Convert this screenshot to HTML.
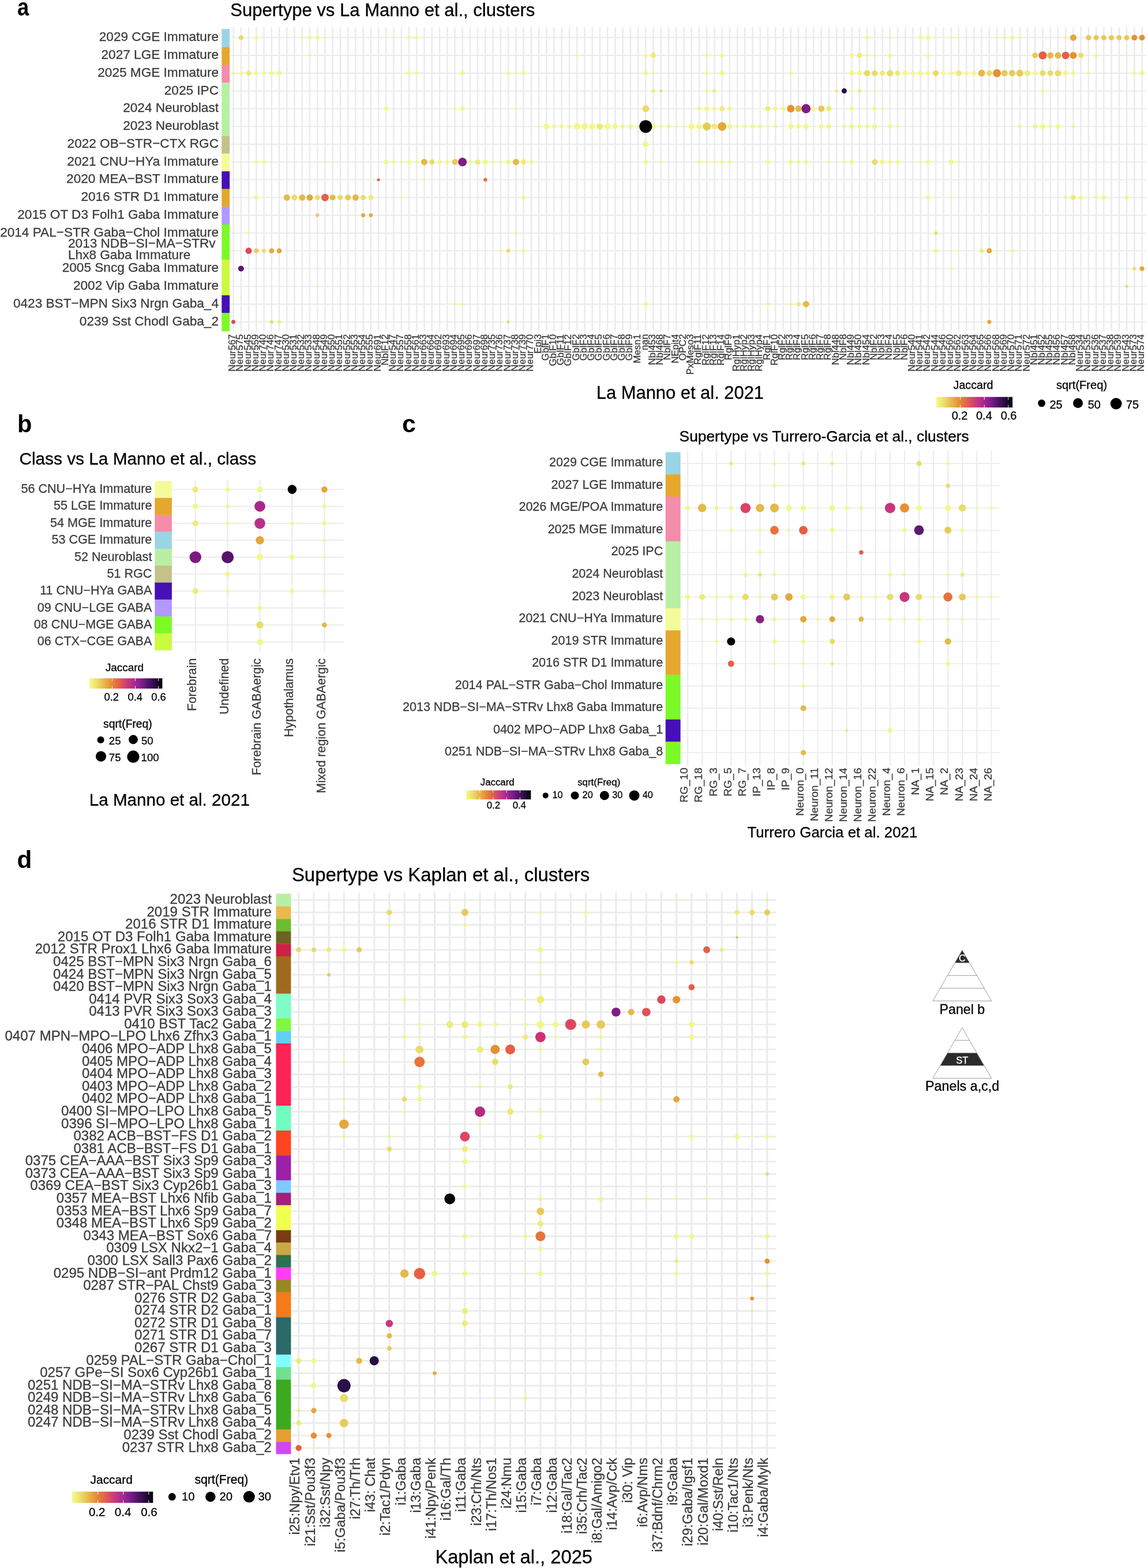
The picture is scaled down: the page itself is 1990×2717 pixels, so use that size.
<!DOCTYPE html>
<html lang="en">
<head>
<meta charset="utf-8">
<title>Supertype correspondence figure</title>
<style>html,body{margin:0;padding:0;background:#fff}body{width:1990px;height:2717px;overflow:hidden}svg{display:block}text{white-space:pre;stroke-width:0.3px;stroke-linejoin:round}</style>
</head>
<body>
<svg width="1990" height="2717" viewBox="0 0 1990 2717" font-family='"Liberation Sans", sans-serif'>
<rect width="1990" height="2717" fill="#fff"/>
<g stroke="#EBEBEB" fill="none"><path stroke-width="1.9" d="M399.5 65.25H1987.4M399.5 96.03H1987.4M399.5 126.81H1987.4M399.5 157.59H1987.4M399.5 188.37H1987.4M399.5 219.15H1987.4M399.5 249.93H1987.4M399.5 280.71H1987.4M399.5 311.49H1987.4M399.5 342.27H1987.4M399.5 373.05H1987.4M399.5 403.83H1987.4M399.5 434.61H1987.4M399.5 465.39H1987.4M399.5 496.17H1987.4M399.5 526.95H1987.4M399.5 557.73H1987.4"/><path stroke-width="2.5" d="M404.60 47.3V573.6M417.84 47.3V573.6M431.07 47.3V573.6M444.31 47.3V573.6M457.54 47.3V573.6M470.78 47.3V573.6M484.01 47.3V573.6M497.25 47.3V573.6M510.48 47.3V573.6M523.72 47.3V573.6M536.95 47.3V573.6M550.18 47.3V573.6M563.42 47.3V573.6M576.65 47.3V573.6M589.89 47.3V573.6M603.12 47.3V573.6M616.36 47.3V573.6M629.60 47.3V573.6M642.83 47.3V573.6M656.07 47.3V573.6M669.30 47.3V573.6M682.54 47.3V573.6M695.77 47.3V573.6M709.00 47.3V573.6M722.24 47.3V573.6M735.48 47.3V573.6M748.71 47.3V573.6M761.94 47.3V573.6M775.18 47.3V573.6M788.41 47.3V573.6M801.65 47.3V573.6M814.88 47.3V573.6M828.12 47.3V573.6M841.36 47.3V573.6M854.59 47.3V573.6M867.83 47.3V573.6M881.06 47.3V573.6M894.30 47.3V573.6M907.53 47.3V573.6M920.76 47.3V573.6M934.00 47.3V573.6M947.24 47.3V573.6M960.47 47.3V573.6M973.71 47.3V573.6M986.94 47.3V573.6M1000.17 47.3V573.6M1013.41 47.3V573.6M1026.64 47.3V573.6M1039.88 47.3V573.6M1053.12 47.3V573.6M1066.35 47.3V573.6M1079.59 47.3V573.6M1092.82 47.3V573.6M1106.05 47.3V573.6M1119.29 47.3V573.6M1132.53 47.3V573.6M1145.76 47.3V573.6M1158.99 47.3V573.6M1172.23 47.3V573.6M1185.47 47.3V573.6M1198.70 47.3V573.6M1211.93 47.3V573.6M1225.17 47.3V573.6M1238.40 47.3V573.6M1251.64 47.3V573.6M1264.88 47.3V573.6M1278.11 47.3V573.6M1291.35 47.3V573.6M1304.58 47.3V573.6M1317.82 47.3V573.6M1331.05 47.3V573.6M1344.28 47.3V573.6M1357.52 47.3V573.6M1370.76 47.3V573.6M1383.99 47.3V573.6M1397.22 47.3V573.6M1410.46 47.3V573.6M1423.69 47.3V573.6M1436.93 47.3V573.6M1450.16 47.3V573.6M1463.40 47.3V573.6M1476.63 47.3V573.6M1489.87 47.3V573.6M1503.11 47.3V573.6M1516.34 47.3V573.6M1529.57 47.3V573.6M1542.81 47.3V573.6M1556.05 47.3V573.6M1569.28 47.3V573.6M1582.51 47.3V573.6M1595.75 47.3V573.6M1608.99 47.3V573.6M1622.22 47.3V573.6M1635.45 47.3V573.6M1648.69 47.3V573.6M1661.93 47.3V573.6M1675.16 47.3V573.6M1688.39 47.3V573.6M1701.63 47.3V573.6M1714.86 47.3V573.6M1728.10 47.3V573.6M1741.34 47.3V573.6M1754.57 47.3V573.6M1767.80 47.3V573.6M1781.04 47.3V573.6M1794.28 47.3V573.6M1807.51 47.3V573.6M1820.74 47.3V573.6M1833.98 47.3V573.6M1847.22 47.3V573.6M1860.45 47.3V573.6M1873.68 47.3V573.6M1886.92 47.3V573.6M1900.15 47.3V573.6M1913.39 47.3V573.6M1926.62 47.3V573.6M1939.86 47.3V573.6M1953.09 47.3V573.6M1966.33 47.3V573.6M1979.57 47.3V573.6"/></g>
<rect x="384.3" y="50.20" width="13.80" height="32.07" fill="#99D5E5"/>
<rect x="384.3" y="81.97" width="13.80" height="30.99" fill="#E5A82E"/>
<rect x="384.3" y="112.66" width="13.80" height="30.99" fill="#F48CAB"/>
<rect x="384.3" y="143.35" width="13.80" height="92.37" fill="#B8EFA4"/>
<rect x="384.3" y="235.42" width="13.80" height="30.99" fill="#C5C18A"/>
<rect x="384.3" y="266.11" width="13.80" height="30.99" fill="#F5FB9A"/>
<rect x="384.3" y="296.80" width="13.80" height="30.99" fill="#4510B5"/>
<rect x="384.3" y="327.49" width="13.80" height="30.99" fill="#E5A82E"/>
<rect x="384.3" y="358.18" width="13.80" height="30.99" fill="#B199FF"/>
<rect x="384.3" y="388.87" width="13.80" height="61.68" fill="#7CFA28"/>
<rect x="384.3" y="450.25" width="13.80" height="61.68" fill="#CCFA3E"/>
<rect x="384.3" y="511.63" width="13.80" height="30.99" fill="#4510B5"/>
<rect x="384.3" y="542.32" width="13.80" height="31.78" fill="#7CFA28"/>
<g>
<circle cx="417.84" cy="65.25" r="4.10" fill="#EADC64"/>
<circle cx="444.31" cy="65.25" r="3.00" fill="#F1F886"/>
<circle cx="523.72" cy="65.25" r="2.50" fill="#F1F886"/>
<circle cx="536.95" cy="65.25" r="3.00" fill="#F1F886"/>
<circle cx="550.18" cy="65.25" r="3.50" fill="#F1F886"/>
<circle cx="563.42" cy="65.25" r="2.50" fill="#F1F886"/>
<circle cx="682.54" cy="65.25" r="2.00" fill="#F1F886"/>
<circle cx="709.00" cy="65.25" r="3.00" fill="#F1F886"/>
<circle cx="722.24" cy="65.25" r="3.00" fill="#F1F886"/>
<circle cx="1503.11" cy="65.25" r="3.00" fill="#F1F886"/>
<circle cx="1542.81" cy="65.25" r="2.50" fill="#F1F886"/>
<circle cx="1595.75" cy="65.25" r="3.50" fill="#F1F886"/>
<circle cx="1608.99" cy="65.25" r="3.50" fill="#F1F886"/>
<circle cx="1648.69" cy="65.25" r="2.50" fill="#F1F886"/>
<circle cx="1661.93" cy="65.25" r="2.00" fill="#F1F886"/>
<circle cx="1728.10" cy="65.25" r="2.00" fill="#F1F886"/>
<circle cx="1741.34" cy="65.25" r="2.50" fill="#F1F886"/>
<circle cx="1754.57" cy="65.25" r="3.50" fill="#F1F886"/>
<circle cx="1767.80" cy="65.25" r="2.00" fill="#F1F886"/>
<circle cx="1847.22" cy="65.25" r="2.50" fill="#F1F886"/>
<circle cx="1860.45" cy="65.25" r="5.50" fill="#E5A73A"/>
<circle cx="1886.92" cy="65.25" r="4.50" fill="#E7CA55"/>
<circle cx="1900.15" cy="65.25" r="4.50" fill="#E7CA55"/>
<circle cx="1913.39" cy="65.25" r="4.50" fill="#E7CA55"/>
<circle cx="1926.62" cy="65.25" r="4.50" fill="#E7CA55"/>
<circle cx="1939.86" cy="65.25" r="4.50" fill="#E7CA55"/>
<circle cx="1953.09" cy="65.25" r="4.50" fill="#E7CA55"/>
<circle cx="1966.33" cy="65.25" r="5.00" fill="#E88F30"/>
<circle cx="1979.57" cy="65.25" r="5.00" fill="#E88F30"/>
<circle cx="536.95" cy="96.03" r="2.50" fill="#F1F886"/>
<circle cx="1000.17" cy="96.03" r="2.50" fill="#F1F886"/>
<circle cx="1119.29" cy="96.03" r="3.00" fill="#F1F886"/>
<circle cx="1132.53" cy="96.03" r="4.50" fill="#EDEC74"/>
<circle cx="1225.17" cy="96.03" r="3.00" fill="#F1F886"/>
<circle cx="1238.40" cy="96.03" r="2.00" fill="#F1F886"/>
<circle cx="1251.64" cy="96.03" r="3.50" fill="#F1F886"/>
<circle cx="1476.63" cy="96.03" r="3.50" fill="#F1F886"/>
<circle cx="1489.87" cy="96.03" r="4.50" fill="#EDEC74"/>
<circle cx="1503.11" cy="96.03" r="3.00" fill="#F1F886"/>
<circle cx="1516.34" cy="96.03" r="2.50" fill="#F1F886"/>
<circle cx="1542.81" cy="96.03" r="3.50" fill="#F1F886"/>
<circle cx="1608.99" cy="96.03" r="3.00" fill="#F1F886"/>
<circle cx="1794.28" cy="96.03" r="5.00" fill="#E7CA55"/>
<circle cx="1807.51" cy="96.03" r="7.00" fill="#E75E44"/>
<circle cx="1820.74" cy="96.03" r="5.50" fill="#E5B946"/>
<circle cx="1833.98" cy="96.03" r="5.50" fill="#E5B946"/>
<circle cx="1847.22" cy="96.03" r="6.50" fill="#E75E44"/>
<circle cx="1860.45" cy="96.03" r="6.00" fill="#E88F30"/>
<circle cx="1873.68" cy="96.03" r="4.50" fill="#EADC64"/>
<circle cx="1900.15" cy="96.03" r="3.00" fill="#F1F886"/>
<circle cx="1953.09" cy="96.03" r="2.00" fill="#F1F886"/>
<circle cx="404.60" cy="126.81" r="2.50" fill="#F1F886"/>
<circle cx="417.84" cy="126.81" r="3.00" fill="#F1F886"/>
<circle cx="431.07" cy="126.81" r="4.50" fill="#EDEC74"/>
<circle cx="444.31" cy="126.81" r="3.50" fill="#F1F886"/>
<circle cx="457.54" cy="126.81" r="3.00" fill="#F1F886"/>
<circle cx="470.78" cy="126.81" r="3.50" fill="#F1F886"/>
<circle cx="484.01" cy="126.81" r="4.00" fill="#F1F886"/>
<circle cx="709.00" cy="126.81" r="3.50" fill="#F1F886"/>
<circle cx="722.24" cy="126.81" r="3.00" fill="#F1F886"/>
<circle cx="801.65" cy="126.81" r="3.50" fill="#F1F886"/>
<circle cx="881.06" cy="126.81" r="3.00" fill="#F1F886"/>
<circle cx="894.30" cy="126.81" r="2.50" fill="#F1F886"/>
<circle cx="907.53" cy="126.81" r="3.50" fill="#F1F886"/>
<circle cx="1119.29" cy="126.81" r="3.50" fill="#F1F886"/>
<circle cx="1132.53" cy="126.81" r="2.50" fill="#F1F886"/>
<circle cx="1225.17" cy="126.81" r="3.00" fill="#F1F886"/>
<circle cx="1251.64" cy="126.81" r="4.00" fill="#F1F886"/>
<circle cx="1370.76" cy="126.81" r="3.00" fill="#F1F886"/>
<circle cx="1476.63" cy="126.81" r="4.50" fill="#F1F886"/>
<circle cx="1489.87" cy="126.81" r="4.00" fill="#F1F886"/>
<circle cx="1503.11" cy="126.81" r="5.50" fill="#EADC64"/>
<circle cx="1516.34" cy="126.81" r="5.00" fill="#EADC64"/>
<circle cx="1529.57" cy="126.81" r="4.50" fill="#EDEC74"/>
<circle cx="1542.81" cy="126.81" r="5.50" fill="#EADC64"/>
<circle cx="1556.05" cy="126.81" r="4.50" fill="#EDEC74"/>
<circle cx="1569.28" cy="126.81" r="4.00" fill="#F1F886"/>
<circle cx="1582.51" cy="126.81" r="3.50" fill="#F1F886"/>
<circle cx="1595.75" cy="126.81" r="4.00" fill="#F1F886"/>
<circle cx="1608.99" cy="126.81" r="3.50" fill="#F1F886"/>
<circle cx="1622.22" cy="126.81" r="5.00" fill="#EADC64"/>
<circle cx="1635.45" cy="126.81" r="3.50" fill="#F1F886"/>
<circle cx="1648.69" cy="126.81" r="3.50" fill="#F1F886"/>
<circle cx="1661.93" cy="126.81" r="5.00" fill="#EDEC74"/>
<circle cx="1675.16" cy="126.81" r="3.50" fill="#F1F886"/>
<circle cx="1688.39" cy="126.81" r="4.00" fill="#F1F886"/>
<circle cx="1701.63" cy="126.81" r="6.00" fill="#E5B946"/>
<circle cx="1714.86" cy="126.81" r="5.00" fill="#EADC64"/>
<circle cx="1728.10" cy="126.81" r="7.00" fill="#E88F30"/>
<circle cx="1741.34" cy="126.81" r="5.50" fill="#E7CA55"/>
<circle cx="1754.57" cy="126.81" r="5.50" fill="#E7CA55"/>
<circle cx="1767.80" cy="126.81" r="6.00" fill="#E7CA55"/>
<circle cx="1781.04" cy="126.81" r="5.00" fill="#EDEC74"/>
<circle cx="1794.28" cy="126.81" r="4.00" fill="#F1F886"/>
<circle cx="1807.51" cy="126.81" r="5.00" fill="#EADC64"/>
<circle cx="1820.74" cy="126.81" r="5.00" fill="#EADC64"/>
<circle cx="1833.98" cy="126.81" r="5.50" fill="#EADC64"/>
<circle cx="1847.22" cy="126.81" r="4.00" fill="#F1F886"/>
<circle cx="1860.45" cy="126.81" r="3.50" fill="#F1F886"/>
<circle cx="1886.92" cy="126.81" r="2.50" fill="#F1F886"/>
<circle cx="1966.33" cy="126.81" r="3.00" fill="#F1F886"/>
<circle cx="1979.57" cy="126.81" r="3.50" fill="#F1F886"/>
<circle cx="1132.53" cy="157.59" r="3.00" fill="#EDEC74"/>
<circle cx="1145.76" cy="157.59" r="2.50" fill="#EADC64"/>
<circle cx="1225.17" cy="157.59" r="3.00" fill="#F1F886"/>
<circle cx="1238.40" cy="157.59" r="3.00" fill="#EDEC74"/>
<circle cx="1450.16" cy="157.59" r="2.50" fill="#EDEC74"/>
<circle cx="1463.40" cy="157.59" r="4.50" fill="#2A0C46"/>
<circle cx="1476.63" cy="157.59" r="2.50" fill="#F1F886"/>
<circle cx="1489.87" cy="157.59" r="3.00" fill="#EDEC74"/>
<circle cx="1516.34" cy="157.59" r="2.00" fill="#F1F886"/>
<circle cx="1807.51" cy="157.59" r="3.00" fill="#F1F886"/>
<circle cx="669.30" cy="188.37" r="3.50" fill="#F1F886"/>
<circle cx="788.41" cy="188.37" r="2.50" fill="#F1F886"/>
<circle cx="801.65" cy="188.37" r="3.50" fill="#F1F886"/>
<circle cx="894.30" cy="188.37" r="2.50" fill="#F1F886"/>
<circle cx="1119.29" cy="188.37" r="6.00" fill="#EADC64"/>
<circle cx="1211.93" cy="188.37" r="3.50" fill="#F1F886"/>
<circle cx="1225.17" cy="188.37" r="4.00" fill="#F1F886"/>
<circle cx="1238.40" cy="188.37" r="3.50" fill="#F1F886"/>
<circle cx="1251.64" cy="188.37" r="4.50" fill="#EDEC74"/>
<circle cx="1264.88" cy="188.37" r="3.50" fill="#F1F886"/>
<circle cx="1331.05" cy="188.37" r="4.50" fill="#EDEC74"/>
<circle cx="1344.28" cy="188.37" r="3.50" fill="#F1F886"/>
<circle cx="1357.52" cy="188.37" r="3.50" fill="#F1F886"/>
<circle cx="1370.76" cy="188.37" r="6.50" fill="#E88F30"/>
<circle cx="1383.99" cy="188.37" r="5.50" fill="#E5B946"/>
<circle cx="1397.22" cy="188.37" r="8.00" fill="#801C82"/>
<circle cx="1410.46" cy="188.37" r="3.50" fill="#F1F886"/>
<circle cx="1423.69" cy="188.37" r="5.50" fill="#E7CA55"/>
<circle cx="1436.93" cy="188.37" r="4.50" fill="#EDEC74"/>
<circle cx="1476.63" cy="188.37" r="3.50" fill="#F1F886"/>
<circle cx="1516.34" cy="188.37" r="3.50" fill="#F1F886"/>
<circle cx="1529.57" cy="188.37" r="2.50" fill="#F1F886"/>
<circle cx="934.00" cy="219.15" r="2.00" fill="#F1F886"/>
<circle cx="947.24" cy="219.15" r="5.00" fill="#F1F886"/>
<circle cx="960.47" cy="219.15" r="3.50" fill="#F1F886"/>
<circle cx="973.71" cy="219.15" r="3.50" fill="#F1F886"/>
<circle cx="986.94" cy="219.15" r="3.50" fill="#F1F886"/>
<circle cx="1000.17" cy="219.15" r="5.50" fill="#F1F886"/>
<circle cx="1013.41" cy="219.15" r="5.50" fill="#F1F886"/>
<circle cx="1026.64" cy="219.15" r="5.00" fill="#F1F886"/>
<circle cx="1039.88" cy="219.15" r="5.50" fill="#EDEC74"/>
<circle cx="1053.12" cy="219.15" r="5.00" fill="#F1F886"/>
<circle cx="1066.35" cy="219.15" r="4.50" fill="#F1F886"/>
<circle cx="1079.59" cy="219.15" r="3.50" fill="#F1F886"/>
<circle cx="1092.82" cy="219.15" r="4.00" fill="#F1F886"/>
<circle cx="1106.05" cy="219.15" r="2.50" fill="#F1F886"/>
<circle cx="1132.53" cy="219.15" r="4.50" fill="#F1F886"/>
<circle cx="1119.29" cy="219.15" r="11.00" fill="#000000"/>
<circle cx="1145.76" cy="219.15" r="3.00" fill="#F1F886"/>
<circle cx="1158.99" cy="219.15" r="3.50" fill="#F1F886"/>
<circle cx="1172.23" cy="219.15" r="2.50" fill="#F1F886"/>
<circle cx="1185.47" cy="219.15" r="2.00" fill="#F1F886"/>
<circle cx="1198.70" cy="219.15" r="5.00" fill="#F1F886"/>
<circle cx="1211.93" cy="219.15" r="5.00" fill="#F1F886"/>
<circle cx="1225.17" cy="219.15" r="7.00" fill="#E7CA55"/>
<circle cx="1238.40" cy="219.15" r="5.00" fill="#EDEC74"/>
<circle cx="1251.64" cy="219.15" r="7.50" fill="#E5A73A"/>
<circle cx="1264.88" cy="219.15" r="4.50" fill="#F1F886"/>
<circle cx="1278.11" cy="219.15" r="2.50" fill="#F1F886"/>
<circle cx="1291.35" cy="219.15" r="3.50" fill="#F1F886"/>
<circle cx="1304.58" cy="219.15" r="3.50" fill="#F1F886"/>
<circle cx="1317.82" cy="219.15" r="3.50" fill="#F1F886"/>
<circle cx="1331.05" cy="219.15" r="2.50" fill="#F1F886"/>
<circle cx="1344.28" cy="219.15" r="3.00" fill="#F1F886"/>
<circle cx="1370.76" cy="219.15" r="4.50" fill="#F1F886"/>
<circle cx="1383.99" cy="219.15" r="4.00" fill="#F1F886"/>
<circle cx="1397.22" cy="219.15" r="4.50" fill="#F1F886"/>
<circle cx="1423.69" cy="219.15" r="4.00" fill="#F1F886"/>
<circle cx="1436.93" cy="219.15" r="4.00" fill="#F1F886"/>
<circle cx="1463.40" cy="219.15" r="3.00" fill="#F1F886"/>
<circle cx="1476.63" cy="219.15" r="4.00" fill="#F1F886"/>
<circle cx="1489.87" cy="219.15" r="3.50" fill="#F1F886"/>
<circle cx="1503.11" cy="219.15" r="3.50" fill="#F1F886"/>
<circle cx="1516.34" cy="219.15" r="4.50" fill="#F1F886"/>
<circle cx="1542.81" cy="219.15" r="3.50" fill="#F1F886"/>
<circle cx="1556.05" cy="219.15" r="2.50" fill="#F1F886"/>
<circle cx="1767.80" cy="219.15" r="3.00" fill="#F1F886"/>
<circle cx="1794.28" cy="219.15" r="4.00" fill="#F1F886"/>
<circle cx="1807.51" cy="219.15" r="4.50" fill="#F1F886"/>
<circle cx="1820.74" cy="219.15" r="3.00" fill="#F1F886"/>
<circle cx="1833.98" cy="219.15" r="4.00" fill="#F1F886"/>
<circle cx="1860.45" cy="219.15" r="3.00" fill="#F1F886"/>
<circle cx="1119.29" cy="249.93" r="5.00" fill="#F1F886"/>
<circle cx="444.31" cy="280.71" r="3.00" fill="#F1F886"/>
<circle cx="457.54" cy="280.71" r="3.00" fill="#F1F886"/>
<circle cx="563.42" cy="280.71" r="2.00" fill="#F1F886"/>
<circle cx="669.30" cy="280.71" r="4.00" fill="#F1F886"/>
<circle cx="682.54" cy="280.71" r="3.00" fill="#F1F886"/>
<circle cx="695.77" cy="280.71" r="2.50" fill="#F1F886"/>
<circle cx="709.00" cy="280.71" r="3.50" fill="#F1F886"/>
<circle cx="722.24" cy="280.71" r="3.00" fill="#F1F886"/>
<circle cx="735.48" cy="280.71" r="5.50" fill="#E5B946"/>
<circle cx="748.71" cy="280.71" r="4.50" fill="#EADC64"/>
<circle cx="761.94" cy="280.71" r="3.50" fill="#F1F886"/>
<circle cx="775.18" cy="280.71" r="3.50" fill="#F1F886"/>
<circle cx="788.41" cy="280.71" r="5.00" fill="#E7CA55"/>
<circle cx="801.65" cy="280.71" r="7.50" fill="#801C82"/>
<circle cx="814.88" cy="280.71" r="3.00" fill="#F1F886"/>
<circle cx="828.12" cy="280.71" r="4.50" fill="#EDEC74"/>
<circle cx="841.36" cy="280.71" r="4.50" fill="#F1F886"/>
<circle cx="854.59" cy="280.71" r="2.50" fill="#F1F886"/>
<circle cx="867.83" cy="280.71" r="2.50" fill="#F1F886"/>
<circle cx="881.06" cy="280.71" r="4.00" fill="#F1F886"/>
<circle cx="894.30" cy="280.71" r="5.50" fill="#E5B946"/>
<circle cx="907.53" cy="280.71" r="4.50" fill="#EDEC74"/>
<circle cx="920.76" cy="280.71" r="3.50" fill="#F1F886"/>
<circle cx="1119.29" cy="280.71" r="3.50" fill="#F1F886"/>
<circle cx="1145.76" cy="280.71" r="2.50" fill="#F1F886"/>
<circle cx="1211.93" cy="280.71" r="3.00" fill="#F1F886"/>
<circle cx="1225.17" cy="280.71" r="2.50" fill="#F1F886"/>
<circle cx="1238.40" cy="280.71" r="2.50" fill="#F1F886"/>
<circle cx="1251.64" cy="280.71" r="3.00" fill="#F1F886"/>
<circle cx="1264.88" cy="280.71" r="3.00" fill="#F1F886"/>
<circle cx="1331.05" cy="280.71" r="3.50" fill="#F1F886"/>
<circle cx="1370.76" cy="280.71" r="3.50" fill="#F1F886"/>
<circle cx="1383.99" cy="280.71" r="3.00" fill="#F1F886"/>
<circle cx="1397.22" cy="280.71" r="3.50" fill="#F1F886"/>
<circle cx="1436.93" cy="280.71" r="2.50" fill="#F1F886"/>
<circle cx="1463.40" cy="280.71" r="2.50" fill="#F1F886"/>
<circle cx="1476.63" cy="280.71" r="3.50" fill="#F1F886"/>
<circle cx="1516.34" cy="280.71" r="5.00" fill="#EADC64"/>
<circle cx="1529.57" cy="280.71" r="4.00" fill="#F1F886"/>
<circle cx="1542.81" cy="280.71" r="3.50" fill="#F1F886"/>
<circle cx="1556.05" cy="280.71" r="3.50" fill="#F1F886"/>
<circle cx="1582.51" cy="280.71" r="2.00" fill="#F1F886"/>
<circle cx="1595.75" cy="280.71" r="2.50" fill="#F1F886"/>
<circle cx="1608.99" cy="280.71" r="3.50" fill="#F1F886"/>
<circle cx="1648.69" cy="280.71" r="4.00" fill="#F1F886"/>
<circle cx="1661.93" cy="280.71" r="2.50" fill="#F1F886"/>
<circle cx="656.07" cy="311.49" r="2.50" fill="#E75E44"/>
<circle cx="735.48" cy="311.49" r="2.00" fill="#F1F886"/>
<circle cx="841.36" cy="311.49" r="3.30" fill="#E8723A"/>
<circle cx="444.31" cy="342.27" r="3.50" fill="#F1F886"/>
<circle cx="497.25" cy="342.27" r="5.50" fill="#E5B946"/>
<circle cx="510.48" cy="342.27" r="5.00" fill="#EADC64"/>
<circle cx="523.72" cy="342.27" r="5.50" fill="#E5B946"/>
<circle cx="536.95" cy="342.27" r="5.50" fill="#E5A73A"/>
<circle cx="550.18" cy="342.27" r="4.50" fill="#EADC64"/>
<circle cx="563.42" cy="342.27" r="6.50" fill="#E75E44"/>
<circle cx="576.65" cy="342.27" r="5.00" fill="#E5B946"/>
<circle cx="589.89" cy="342.27" r="4.50" fill="#EADC64"/>
<circle cx="603.12" cy="342.27" r="5.00" fill="#E7CA55"/>
<circle cx="616.36" cy="342.27" r="5.50" fill="#E5B946"/>
<circle cx="629.60" cy="342.27" r="4.50" fill="#EADC64"/>
<circle cx="642.83" cy="342.27" r="4.50" fill="#EDEC74"/>
<circle cx="695.77" cy="342.27" r="2.00" fill="#F1F886"/>
<circle cx="907.53" cy="342.27" r="3.50" fill="#F1F886"/>
<circle cx="1608.99" cy="342.27" r="3.50" fill="#F1F886"/>
<circle cx="1648.69" cy="342.27" r="2.00" fill="#F1F886"/>
<circle cx="1847.22" cy="342.27" r="3.00" fill="#F1F886"/>
<circle cx="1860.45" cy="342.27" r="4.50" fill="#EDEC74"/>
<circle cx="1873.68" cy="342.27" r="3.50" fill="#F1F886"/>
<circle cx="1900.15" cy="342.27" r="3.00" fill="#F1F886"/>
<circle cx="1913.39" cy="342.27" r="3.50" fill="#F1F886"/>
<circle cx="1953.09" cy="342.27" r="3.50" fill="#F1F886"/>
<circle cx="550.18" cy="373.05" r="3.00" fill="#E7CA55"/>
<circle cx="629.60" cy="373.05" r="3.50" fill="#E5A73A"/>
<circle cx="642.83" cy="373.05" r="3.30" fill="#E5A73A"/>
<circle cx="431.07" cy="403.83" r="2.50" fill="#F1F886"/>
<circle cx="894.30" cy="403.83" r="2.50" fill="#F1F886"/>
<circle cx="1622.22" cy="403.83" r="3.00" fill="#EADC64"/>
<circle cx="404.60" cy="434.61" r="2.00" fill="#F1F886"/>
<circle cx="431.07" cy="434.61" r="5.50" fill="#DE4660"/>
<circle cx="444.31" cy="434.61" r="4.00" fill="#E7CA55"/>
<circle cx="457.54" cy="434.61" r="3.50" fill="#EADC64"/>
<circle cx="470.78" cy="434.61" r="4.30" fill="#E5A73A"/>
<circle cx="484.01" cy="434.61" r="4.30" fill="#E5A73A"/>
<circle cx="867.83" cy="434.61" r="2.50" fill="#F1F886"/>
<circle cx="881.06" cy="434.61" r="3.50" fill="#EADC64"/>
<circle cx="894.30" cy="434.61" r="2.00" fill="#F1F886"/>
<circle cx="907.53" cy="434.61" r="3.00" fill="#F1F886"/>
<circle cx="1622.22" cy="434.61" r="3.50" fill="#F1F886"/>
<circle cx="1648.69" cy="434.61" r="2.00" fill="#F1F886"/>
<circle cx="1661.93" cy="434.61" r="2.50" fill="#F1F886"/>
<circle cx="1701.63" cy="434.61" r="3.50" fill="#EDEC74"/>
<circle cx="1714.86" cy="434.61" r="4.50" fill="#E5A73A"/>
<circle cx="1728.10" cy="434.61" r="2.00" fill="#F1F886"/>
<circle cx="1754.57" cy="434.61" r="3.00" fill="#F1F886"/>
<circle cx="417.84" cy="465.39" r="5.00" fill="#5A1670"/>
<circle cx="1648.69" cy="465.39" r="2.00" fill="#F1F886"/>
<circle cx="1966.33" cy="465.39" r="3.00" fill="#EADC64"/>
<circle cx="1979.57" cy="465.39" r="4.00" fill="#E5A73A"/>
<circle cx="550.18" cy="496.17" r="2.00" fill="#F1F886"/>
<circle cx="1953.09" cy="496.17" r="2.50" fill="#EADC64"/>
<circle cx="788.41" cy="526.95" r="2.50" fill="#F1F886"/>
<circle cx="801.65" cy="526.95" r="3.00" fill="#F1F886"/>
<circle cx="1119.29" cy="526.95" r="3.50" fill="#F1F886"/>
<circle cx="1331.05" cy="526.95" r="3.00" fill="#F1F886"/>
<circle cx="1370.76" cy="526.95" r="3.00" fill="#F1F886"/>
<circle cx="1383.99" cy="526.95" r="3.50" fill="#EDEC74"/>
<circle cx="1397.22" cy="526.95" r="5.50" fill="#E5B946"/>
<circle cx="404.60" cy="557.73" r="3.50" fill="#DE4660"/>
<circle cx="470.78" cy="557.73" r="3.00" fill="#EADC64"/>
<circle cx="484.01" cy="557.73" r="3.00" fill="#EDEC74"/>
<circle cx="881.06" cy="557.73" r="2.50" fill="#EADC64"/>
<circle cx="1714.86" cy="557.73" r="3.50" fill="#E5A73A"/>
</g>
<g font-size="22.6" fill="#3c3c3c" stroke="#3c3c3c" text-anchor="end">
<text x="379.0" y="71.25">2029 CGE Immature</text>
<text x="379.0" y="102.03">2027 LGE Immature</text>
<text x="379.0" y="132.81">2025 MGE Immature</text>
<text x="379.0" y="163.59">2025 IPC</text>
<text x="379.0" y="194.37">2024 Neuroblast</text>
<text x="379.0" y="225.15">2023 Neuroblast</text>
<text x="379.0" y="255.93">2022 OB−STR−CTX RGC</text>
<text x="379.0" y="286.71">2021 CNU−HYa Immature</text>
<text x="379.0" y="317.49">2020 MEA−BST Immature</text>
<text x="379.0" y="348.27">2016 STR D1 Immature</text>
<text x="379.0" y="379.05">2015 OT D3 Folh1 Gaba Immature</text>
<text x="379.0" y="409.83">2014 PAL−STR Gaba−Chol Immature</text>
<text x="118.0" y="428.5" text-anchor="start">2013 NDB−SI−MA−STRv </text>
<text x="118.0" y="448.9" text-anchor="start">Lhx8 Gaba Immature</text>
<text x="379.0" y="471.39">2005 Sncg Gaba Immature</text>
<text x="379.0" y="502.17">2002 Vip Gaba Immature</text>
<text x="379.0" y="532.95">0423 BST−MPN Six3 Nrgn Gaba_4</text>
<text x="379.0" y="563.73">0239 Sst Chodl Gaba_2</text>
</g>
<g font-size="16.85" fill="#3c3c3c" stroke="#3c3c3c" text-anchor="end">
<text transform="translate(408.10,579.0) rotate(-90)">Neur567</text>
<text transform="translate(421.34,579.0) rotate(-90)">Neur575</text>
<text transform="translate(434.57,579.0) rotate(-90)">Neur545</text>
<text transform="translate(447.81,579.0) rotate(-90)">Neur559</text>
<text transform="translate(461.04,579.0) rotate(-90)">Neur740</text>
<text transform="translate(474.28,579.0) rotate(-90)">Neur746</text>
<text transform="translate(487.51,579.0) rotate(-90)">Neur747</text>
<text transform="translate(500.75,579.0) rotate(-90)">Neur530</text>
<text transform="translate(513.98,579.0) rotate(-90)">Neur531</text>
<text transform="translate(527.22,579.0) rotate(-90)">Neur532</text>
<text transform="translate(540.45,579.0) rotate(-90)">Neur533</text>
<text transform="translate(553.68,579.0) rotate(-90)">Neur548</text>
<text transform="translate(566.92,579.0) rotate(-90)">Neur549</text>
<text transform="translate(580.15,579.0) rotate(-90)">Neur550</text>
<text transform="translate(593.39,579.0) rotate(-90)">Neur551</text>
<text transform="translate(606.62,579.0) rotate(-90)">Neur552</text>
<text transform="translate(619.86,579.0) rotate(-90)">Neur553</text>
<text transform="translate(633.10,579.0) rotate(-90)">Neur554</text>
<text transform="translate(646.33,579.0) rotate(-90)">Neur555</text>
<text transform="translate(659.57,579.0) rotate(-90)">Neur691</text>
<text transform="translate(672.80,579.0) rotate(-90)">NblF12</text>
<text transform="translate(686.04,579.0) rotate(-90)">Neur547</text>
<text transform="translate(699.27,579.0) rotate(-90)">Neur557</text>
<text transform="translate(712.50,579.0) rotate(-90)">Neur558</text>
<text transform="translate(725.74,579.0) rotate(-90)">Neur561</text>
<text transform="translate(738.98,579.0) rotate(-90)">Neur663</text>
<text transform="translate(752.21,579.0) rotate(-90)">Neur664</text>
<text transform="translate(765.44,579.0) rotate(-90)">Neur692</text>
<text transform="translate(778.68,579.0) rotate(-90)">Neur693</text>
<text transform="translate(791.91,579.0) rotate(-90)">Neur694</text>
<text transform="translate(805.15,579.0) rotate(-90)">Neur695</text>
<text transform="translate(818.38,579.0) rotate(-90)">Neur696</text>
<text transform="translate(831.62,579.0) rotate(-90)">Neur697</text>
<text transform="translate(844.86,579.0) rotate(-90)">Neur698</text>
<text transform="translate(858.09,579.0) rotate(-90)">Neur735</text>
<text transform="translate(871.33,579.0) rotate(-90)">Neur736</text>
<text transform="translate(884.56,579.0) rotate(-90)">Neur737</text>
<text transform="translate(897.80,579.0) rotate(-90)">Neur738</text>
<text transform="translate(911.03,579.0) rotate(-90)">Neur739</text>
<text transform="translate(924.26,579.0) rotate(-90)">Neur770</text>
<text transform="translate(937.50,579.0) rotate(-90)">Epi3</text>
<text transform="translate(950.74,579.0) rotate(-90)">GblF1</text>
<text transform="translate(963.97,579.0) rotate(-90)">GblF10</text>
<text transform="translate(977.21,579.0) rotate(-90)">GblF11</text>
<text transform="translate(990.44,579.0) rotate(-90)">GblF12</text>
<text transform="translate(1003.67,579.0) rotate(-90)">GblF2</text>
<text transform="translate(1016.91,579.0) rotate(-90)">GblF3</text>
<text transform="translate(1030.14,579.0) rotate(-90)">GblF4</text>
<text transform="translate(1043.38,579.0) rotate(-90)">GblF5</text>
<text transform="translate(1056.62,579.0) rotate(-90)">GblF6</text>
<text transform="translate(1069.85,579.0) rotate(-90)">GblF7</text>
<text transform="translate(1083.09,579.0) rotate(-90)">GblF8</text>
<text transform="translate(1096.32,579.0) rotate(-90)">GblF9</text>
<text transform="translate(1109.55,579.0) rotate(-90)">Mesn1</text>
<text transform="translate(1122.79,579.0) rotate(-90)">nan</text>
<text transform="translate(1136.03,579.0) rotate(-90)">Nbl453</text>
<text transform="translate(1149.26,579.0) rotate(-90)">Nbl468</text>
<text transform="translate(1162.49,579.0) rotate(-90)">NblF7</text>
<text transform="translate(1175.73,579.0) rotate(-90)">NEpit4</text>
<text transform="translate(1188.97,579.0) rotate(-90)">OPC2</text>
<text transform="translate(1202.20,579.0) rotate(-90)">PxMeso3</text>
<text transform="translate(1215.43,579.0) rotate(-90)">RglF11</text>
<text transform="translate(1228.67,579.0) rotate(-90)">RglF12</text>
<text transform="translate(1241.90,579.0) rotate(-90)">RglF13</text>
<text transform="translate(1255.14,579.0) rotate(-90)">RglF14</text>
<text transform="translate(1268.38,579.0) rotate(-90)">RglF9</text>
<text transform="translate(1281.61,579.0) rotate(-90)">RglHyp1</text>
<text transform="translate(1294.85,579.0) rotate(-90)">RglHyp2</text>
<text transform="translate(1308.08,579.0) rotate(-90)">RglHyp3</text>
<text transform="translate(1321.32,579.0) rotate(-90)">RglHyp4</text>
<text transform="translate(1334.55,579.0) rotate(-90)">RglF1</text>
<text transform="translate(1347.78,579.0) rotate(-90)">RglF10</text>
<text transform="translate(1361.02,579.0) rotate(-90)">RglF2</text>
<text transform="translate(1374.26,579.0) rotate(-90)">RglF3</text>
<text transform="translate(1387.49,579.0) rotate(-90)">RglF4</text>
<text transform="translate(1400.72,579.0) rotate(-90)">RglF5</text>
<text transform="translate(1413.96,579.0) rotate(-90)">RglF6</text>
<text transform="translate(1427.19,579.0) rotate(-90)">RglF7</text>
<text transform="translate(1440.43,579.0) rotate(-90)">RglF8</text>
<text transform="translate(1453.66,579.0) rotate(-90)">Nbl448</text>
<text transform="translate(1466.90,579.0) rotate(-90)">NblF8</text>
<text transform="translate(1480.13,579.0) rotate(-90)">Nbl449</text>
<text transform="translate(1493.37,579.0) rotate(-90)">Nbl450</text>
<text transform="translate(1506.61,579.0) rotate(-90)">Nbl454</text>
<text transform="translate(1519.84,579.0) rotate(-90)">NblF2</text>
<text transform="translate(1533.07,579.0) rotate(-90)">NblF3</text>
<text transform="translate(1546.31,579.0) rotate(-90)">NblF4</text>
<text transform="translate(1559.55,579.0) rotate(-90)">NblF5</text>
<text transform="translate(1572.78,579.0) rotate(-90)">NblF6</text>
<text transform="translate(1586.01,579.0) rotate(-90)">Neur540</text>
<text transform="translate(1599.25,579.0) rotate(-90)">Neur541</text>
<text transform="translate(1612.49,579.0) rotate(-90)">Neur542</text>
<text transform="translate(1625.72,579.0) rotate(-90)">Neur544</text>
<text transform="translate(1638.95,579.0) rotate(-90)">Neur546</text>
<text transform="translate(1652.19,579.0) rotate(-90)">Neur560</text>
<text transform="translate(1665.43,579.0) rotate(-90)">Neur562</text>
<text transform="translate(1678.66,579.0) rotate(-90)">Neur563</text>
<text transform="translate(1691.89,579.0) rotate(-90)">Neur564</text>
<text transform="translate(1705.13,579.0) rotate(-90)">Neur565</text>
<text transform="translate(1718.36,579.0) rotate(-90)">Neur566</text>
<text transform="translate(1731.60,579.0) rotate(-90)">Neur568</text>
<text transform="translate(1744.84,579.0) rotate(-90)">Neur569</text>
<text transform="translate(1758.07,579.0) rotate(-90)">Neur570</text>
<text transform="translate(1771.30,579.0) rotate(-90)">Neur571</text>
<text transform="translate(1784.54,579.0) rotate(-90)">Neur572</text>
<text transform="translate(1797.78,579.0) rotate(-90)">Nbl451</text>
<text transform="translate(1811.01,579.0) rotate(-90)">Nbl452</text>
<text transform="translate(1824.24,579.0) rotate(-90)">Nbl455</text>
<text transform="translate(1837.48,579.0) rotate(-90)">Nbl456</text>
<text transform="translate(1850.72,579.0) rotate(-90)">Nbl457</text>
<text transform="translate(1863.95,579.0) rotate(-90)">Nbl458</text>
<text transform="translate(1877.18,579.0) rotate(-90)">Neur534</text>
<text transform="translate(1890.42,579.0) rotate(-90)">Neur535</text>
<text transform="translate(1903.65,579.0) rotate(-90)">Neur536</text>
<text transform="translate(1916.89,579.0) rotate(-90)">Neur537</text>
<text transform="translate(1930.12,579.0) rotate(-90)">Neur538</text>
<text transform="translate(1943.36,579.0) rotate(-90)">Neur539</text>
<text transform="translate(1956.59,579.0) rotate(-90)">Neur543</text>
<text transform="translate(1969.83,579.0) rotate(-90)">Neur573</text>
<text transform="translate(1983.07,579.0) rotate(-90)">Neur574</text>
</g>
<g stroke="#EBEBEB" fill="none"><path stroke-width="1.9" d="M297.9 848.10H595.4M297.9 877.45H595.4M297.9 906.80H595.4M297.9 936.15H595.4M297.9 965.50H595.4M297.9 994.85H595.4M297.9 1024.20H595.4M297.9 1053.55H595.4M297.9 1082.90H595.4M297.9 1112.25H595.4"/><path stroke-width="2.1" d="M338.70 830.9V1129.9M394.60 830.9V1129.9M450.50 830.9V1129.9M506.40 830.9V1129.9M562.30 830.9V1129.9"/></g>
<rect x="268.3" y="833.50" width="29.60" height="29.63" fill="#F5FB9A"/>
<rect x="268.3" y="862.83" width="29.60" height="29.63" fill="#E5A82E"/>
<rect x="268.3" y="892.16" width="29.60" height="29.63" fill="#F48CAB"/>
<rect x="268.3" y="921.49" width="29.60" height="29.63" fill="#99D5E5"/>
<rect x="268.3" y="950.82" width="29.60" height="29.63" fill="#B8EFA4"/>
<rect x="268.3" y="980.15" width="29.60" height="29.63" fill="#C5C18A"/>
<rect x="268.3" y="1009.48" width="29.60" height="29.63" fill="#4510B5"/>
<rect x="268.3" y="1038.81" width="29.60" height="29.63" fill="#B199FF"/>
<rect x="268.3" y="1068.14" width="29.60" height="29.63" fill="#7CFA28"/>
<rect x="268.3" y="1097.47" width="29.60" height="29.33" fill="#CCFA3E"/>
<g>
<circle cx="338.70" cy="848.10" r="5.20" fill="#EDEC74"/>
<circle cx="394.60" cy="848.10" r="3.70" fill="#F1F886"/>
<circle cx="450.50" cy="848.10" r="5.00" fill="#F1F886"/>
<circle cx="506.40" cy="848.10" r="7.80" fill="#000000"/>
<circle cx="562.30" cy="848.10" r="5.40" fill="#E5A73A"/>
<circle cx="338.70" cy="877.45" r="4.50" fill="#F1F886"/>
<circle cx="394.60" cy="877.45" r="3.00" fill="#F1F886"/>
<circle cx="450.50" cy="877.45" r="9.40" fill="#A8288A"/>
<circle cx="562.30" cy="877.45" r="3.30" fill="#F1F886"/>
<circle cx="338.70" cy="906.80" r="5.00" fill="#EDEC74"/>
<circle cx="394.60" cy="906.80" r="3.00" fill="#F1F886"/>
<circle cx="450.50" cy="906.80" r="9.40" fill="#B8308A"/>
<circle cx="506.40" cy="906.80" r="3.00" fill="#F1F886"/>
<circle cx="562.30" cy="906.80" r="3.70" fill="#F1F886"/>
<circle cx="450.50" cy="936.15" r="7.20" fill="#E5A73A"/>
<circle cx="562.30" cy="936.15" r="2.50" fill="#F1F886"/>
<circle cx="338.70" cy="965.50" r="10.20" fill="#7C1A7E"/>
<circle cx="394.60" cy="965.50" r="10.50" fill="#551468"/>
<circle cx="450.50" cy="965.50" r="5.70" fill="#F1F886"/>
<circle cx="506.40" cy="965.50" r="4.40" fill="#F1F886"/>
<circle cx="562.30" cy="965.50" r="2.00" fill="#F1F886"/>
<circle cx="394.60" cy="994.85" r="4.40" fill="#F1F886"/>
<circle cx="338.70" cy="1024.20" r="5.00" fill="#EDEC74"/>
<circle cx="394.60" cy="1024.20" r="3.00" fill="#F1F886"/>
<circle cx="506.40" cy="1024.20" r="3.70" fill="#F1F886"/>
<circle cx="562.30" cy="1024.20" r="2.80" fill="#F1F886"/>
<circle cx="450.50" cy="1053.55" r="3.90" fill="#F1F886"/>
<circle cx="450.50" cy="1082.90" r="6.10" fill="#EADC64"/>
<circle cx="562.30" cy="1082.90" r="4.40" fill="#E5B946"/>
<circle cx="450.50" cy="1112.25" r="5.20" fill="#F1F886"/>
</g>
<g font-size="21.6" fill="#3c3c3c" stroke="#3c3c3c" text-anchor="end">
<text x="263.4" y="854.10">56 CNU−HYa Immature</text>
<text x="263.4" y="883.45">55 LGE Immature</text>
<text x="263.4" y="912.80">54 MGE Immature</text>
<text x="263.4" y="942.15">53 CGE Immature</text>
<text x="263.4" y="971.50">52 Neuroblast</text>
<text x="263.4" y="1000.85">51 RGC</text>
<text x="263.4" y="1030.20">11 CNU−HYa GABA</text>
<text x="263.4" y="1059.55">09 CNU−LGE GABA</text>
<text x="263.4" y="1088.90">08 CNU−MGE GABA</text>
<text x="263.4" y="1118.25">06 CTX−CGE GABA</text>
</g>
<g font-size="21.35" fill="#3c3c3c" stroke="#3c3c3c" text-anchor="end">
<text transform="translate(340.20,1140.7) rotate(-90)">Forebrain</text>
<text transform="translate(396.10,1140.7) rotate(-90)">Undefined</text>
<text transform="translate(452.00,1140.7) rotate(-90)">Forebrain GABAergic</text>
<text transform="translate(507.90,1140.7) rotate(-90)">Hypothalamus</text>
<text transform="translate(563.80,1140.7) rotate(-90)">Mixed region GABAergic</text>
</g>
<g stroke="#EBEBEB" fill="none"><path stroke-width="1.6" d="M1180.8 803.10H1733M1180.8 841.65H1733M1180.8 880.20H1733M1180.8 918.75H1733M1180.8 957.30H1733M1180.8 995.85H1733M1180.8 1034.40H1733M1180.8 1072.95H1733M1180.8 1111.50H1733M1180.8 1150.05H1733M1180.8 1188.60H1733M1180.8 1227.15H1733M1180.8 1265.70H1733M1180.8 1304.25H1733"/><path stroke-width="2.0" d="M1192.10 780.7V1327M1217.16 780.7V1327M1242.22 780.7V1327M1267.28 780.7V1327M1292.34 780.7V1327M1317.40 780.7V1327M1342.46 780.7V1327M1367.52 780.7V1327M1392.58 780.7V1327M1417.64 780.7V1327M1442.70 780.7V1327M1467.76 780.7V1327M1492.82 780.7V1327M1517.88 780.7V1327M1542.94 780.7V1327M1568.00 780.7V1327M1593.06 780.7V1327M1618.12 780.7V1327M1643.18 780.7V1327M1668.24 780.7V1327M1693.30 780.7V1327M1718.36 780.7V1327"/></g>
<rect x="1153.7" y="783.50" width="25.90" height="38.90" fill="#99D5E5"/>
<rect x="1153.7" y="822.10" width="25.90" height="38.90" fill="#E5A82E"/>
<rect x="1153.7" y="860.70" width="25.90" height="77.50" fill="#F48CAB"/>
<rect x="1153.7" y="937.90" width="25.90" height="116.10" fill="#B8EFA4"/>
<rect x="1153.7" y="1053.70" width="25.90" height="38.90" fill="#F5FB9A"/>
<rect x="1153.7" y="1092.30" width="25.90" height="77.50" fill="#E5A82E"/>
<rect x="1153.7" y="1169.50" width="25.90" height="77.50" fill="#7CFA28"/>
<rect x="1153.7" y="1246.70" width="25.90" height="38.90" fill="#4510B5"/>
<rect x="1153.7" y="1285.30" width="25.90" height="38.60" fill="#7CFA28"/>
<g>
<circle cx="1267.28" cy="803.10" r="3.30" fill="#EDEC74"/>
<circle cx="1342.46" cy="803.10" r="2.80" fill="#F1F886"/>
<circle cx="1392.58" cy="803.10" r="3.50" fill="#EDEC74"/>
<circle cx="1442.70" cy="803.10" r="3.00" fill="#EDEC74"/>
<circle cx="1593.06" cy="803.10" r="4.50" fill="#EADC64"/>
<circle cx="1643.18" cy="803.10" r="2.80" fill="#F1F886"/>
<circle cx="1342.46" cy="841.65" r="3.00" fill="#F1F886"/>
<circle cx="1442.70" cy="841.65" r="1.50" fill="#F1F886"/>
<circle cx="1643.18" cy="841.65" r="3.70" fill="#EADC64"/>
<circle cx="1192.10" cy="880.20" r="4.00" fill="#F1F886"/>
<circle cx="1217.16" cy="880.20" r="7.30" fill="#E5B946"/>
<circle cx="1242.22" cy="880.20" r="3.50" fill="#F1F886"/>
<circle cx="1267.28" cy="880.20" r="3.50" fill="#F1F886"/>
<circle cx="1292.34" cy="880.20" r="8.80" fill="#DA4262"/>
<circle cx="1317.40" cy="880.20" r="7.20" fill="#E5B946"/>
<circle cx="1342.46" cy="880.20" r="7.60" fill="#E5B946"/>
<circle cx="1367.52" cy="880.20" r="5.00" fill="#F1F886"/>
<circle cx="1392.58" cy="880.20" r="4.70" fill="#F1F886"/>
<circle cx="1442.70" cy="880.20" r="5.00" fill="#F1F886"/>
<circle cx="1467.76" cy="880.20" r="3.50" fill="#F1F886"/>
<circle cx="1492.82" cy="880.20" r="3.20" fill="#F1F886"/>
<circle cx="1542.94" cy="880.20" r="9.00" fill="#C8367C"/>
<circle cx="1568.00" cy="880.20" r="8.00" fill="#E88F30"/>
<circle cx="1593.06" cy="880.20" r="4.70" fill="#F1F886"/>
<circle cx="1643.18" cy="880.20" r="5.00" fill="#F1F886"/>
<circle cx="1668.24" cy="880.20" r="6.20" fill="#EADC64"/>
<circle cx="1693.30" cy="880.20" r="2.50" fill="#F1F886"/>
<circle cx="1718.36" cy="880.20" r="2.50" fill="#F1F886"/>
<circle cx="1217.16" cy="918.75" r="1.50" fill="#F1F886"/>
<circle cx="1267.28" cy="918.75" r="2.80" fill="#F1F886"/>
<circle cx="1317.40" cy="918.75" r="2.80" fill="#F1F886"/>
<circle cx="1342.46" cy="918.75" r="7.40" fill="#E8723A"/>
<circle cx="1367.52" cy="918.75" r="2.60" fill="#F1F886"/>
<circle cx="1392.58" cy="918.75" r="7.40" fill="#E75E44"/>
<circle cx="1442.70" cy="918.75" r="4.00" fill="#F1F886"/>
<circle cx="1542.94" cy="918.75" r="1.50" fill="#F1F886"/>
<circle cx="1568.00" cy="918.75" r="3.60" fill="#F1F886"/>
<circle cx="1593.06" cy="918.75" r="8.40" fill="#5C1A6E"/>
<circle cx="1643.18" cy="918.75" r="6.00" fill="#E7CA55"/>
<circle cx="1668.24" cy="918.75" r="3.00" fill="#F1F886"/>
<circle cx="1317.40" cy="957.30" r="3.00" fill="#F1F886"/>
<circle cx="1492.82" cy="957.30" r="3.80" fill="#E75E44"/>
<circle cx="1292.34" cy="995.85" r="3.60" fill="#F1F886"/>
<circle cx="1317.40" cy="995.85" r="3.60" fill="#EDEC74"/>
<circle cx="1342.46" cy="995.85" r="3.00" fill="#F1F886"/>
<circle cx="1442.70" cy="995.85" r="1.50" fill="#F1F886"/>
<circle cx="1542.94" cy="995.85" r="3.50" fill="#F1F886"/>
<circle cx="1568.00" cy="995.85" r="2.70" fill="#F1F886"/>
<circle cx="1593.06" cy="995.85" r="1.50" fill="#F1F886"/>
<circle cx="1643.18" cy="995.85" r="2.70" fill="#F1F886"/>
<circle cx="1668.24" cy="995.85" r="3.50" fill="#EDEC74"/>
<circle cx="1192.10" cy="1034.40" r="4.00" fill="#F1F886"/>
<circle cx="1217.16" cy="1034.40" r="5.00" fill="#EDEC74"/>
<circle cx="1242.22" cy="1034.40" r="3.00" fill="#F1F886"/>
<circle cx="1267.28" cy="1034.40" r="3.60" fill="#F1F886"/>
<circle cx="1292.34" cy="1034.40" r="5.60" fill="#EADC64"/>
<circle cx="1317.40" cy="1034.40" r="2.70" fill="#F1F886"/>
<circle cx="1342.46" cy="1034.40" r="6.00" fill="#E7CA55"/>
<circle cx="1367.52" cy="1034.40" r="6.50" fill="#E5A73A"/>
<circle cx="1392.58" cy="1034.40" r="4.60" fill="#F1F886"/>
<circle cx="1442.70" cy="1034.40" r="4.60" fill="#F1F886"/>
<circle cx="1467.76" cy="1034.40" r="6.00" fill="#E7CA55"/>
<circle cx="1492.82" cy="1034.40" r="3.00" fill="#F1F886"/>
<circle cx="1517.88" cy="1034.40" r="2.60" fill="#F1F886"/>
<circle cx="1542.94" cy="1034.40" r="5.60" fill="#EADC64"/>
<circle cx="1568.00" cy="1034.40" r="8.60" fill="#C8367C"/>
<circle cx="1593.06" cy="1034.40" r="5.60" fill="#EADC64"/>
<circle cx="1618.12" cy="1034.40" r="2.60" fill="#F1F886"/>
<circle cx="1643.18" cy="1034.40" r="7.80" fill="#E8723A"/>
<circle cx="1668.24" cy="1034.40" r="6.00" fill="#E7CA55"/>
<circle cx="1693.30" cy="1034.40" r="3.00" fill="#F1F886"/>
<circle cx="1718.36" cy="1034.40" r="2.60" fill="#F1F886"/>
<circle cx="1217.16" cy="1072.95" r="2.60" fill="#F1F886"/>
<circle cx="1242.22" cy="1072.95" r="2.60" fill="#F1F886"/>
<circle cx="1267.28" cy="1072.95" r="3.00" fill="#F1F886"/>
<circle cx="1292.34" cy="1072.95" r="3.20" fill="#F1F886"/>
<circle cx="1317.40" cy="1072.95" r="7.20" fill="#8A2082"/>
<circle cx="1342.46" cy="1072.95" r="3.50" fill="#F1F886"/>
<circle cx="1392.58" cy="1072.95" r="5.60" fill="#E5A73A"/>
<circle cx="1417.64" cy="1072.95" r="2.60" fill="#F1F886"/>
<circle cx="1442.70" cy="1072.95" r="5.00" fill="#E5A73A"/>
<circle cx="1492.82" cy="1072.95" r="4.60" fill="#E5B946"/>
<circle cx="1542.94" cy="1072.95" r="3.20" fill="#F1F886"/>
<circle cx="1568.00" cy="1072.95" r="2.70" fill="#F1F886"/>
<circle cx="1593.06" cy="1072.95" r="3.50" fill="#F1F886"/>
<circle cx="1643.18" cy="1072.95" r="2.70" fill="#F1F886"/>
<circle cx="1668.24" cy="1072.95" r="2.70" fill="#F1F886"/>
<circle cx="1242.22" cy="1111.50" r="2.60" fill="#F1F886"/>
<circle cx="1267.28" cy="1111.50" r="7.00" fill="#000000"/>
<circle cx="1342.46" cy="1111.50" r="3.60" fill="#F1F886"/>
<circle cx="1392.58" cy="1111.50" r="3.60" fill="#F1F886"/>
<circle cx="1442.70" cy="1111.50" r="4.50" fill="#EADC64"/>
<circle cx="1593.06" cy="1111.50" r="3.20" fill="#F1F886"/>
<circle cx="1643.18" cy="1111.50" r="5.50" fill="#E5B946"/>
<circle cx="1267.28" cy="1150.05" r="5.50" fill="#E75E44"/>
<circle cx="1342.46" cy="1150.05" r="2.20" fill="#F1F886"/>
<circle cx="1392.58" cy="1150.05" r="2.70" fill="#F1F886"/>
<circle cx="1442.70" cy="1150.05" r="3.00" fill="#EDEC74"/>
<circle cx="1643.18" cy="1150.05" r="3.60" fill="#F1F886"/>
<circle cx="1392.58" cy="1188.60" r="3.00" fill="#F1F886"/>
<circle cx="1392.58" cy="1227.15" r="5.00" fill="#E5B946"/>
<circle cx="1467.76" cy="1265.70" r="2.50" fill="#EDEC74"/>
<circle cx="1542.94" cy="1265.70" r="4.00" fill="#F1F886"/>
<circle cx="1392.58" cy="1304.25" r="4.60" fill="#E5B946"/>
</g>
<g font-size="21.5" fill="#3c3c3c" stroke="#3c3c3c" text-anchor="end">
<text x="1149.2" y="808.20">2029 CGE Immature</text>
<text x="1149.2" y="846.75">2027 LGE Immature</text>
<text x="1149.2" y="885.30">2026 MGE/POA Immature</text>
<text x="1149.2" y="923.85">2025 MGE Immature</text>
<text x="1149.2" y="962.40">2025 IPC</text>
<text x="1149.2" y="1000.95">2024 Neuroblast</text>
<text x="1149.2" y="1039.50">2023 Neuroblast</text>
<text x="1149.2" y="1078.05">2021 CNU−HYa Immature</text>
<text x="1149.2" y="1116.60">2019 STR Immature</text>
<text x="1149.2" y="1155.15">2016 STR D1 Immature</text>
<text x="1149.2" y="1193.70">2014 PAL−STR Gaba−Chol Immature</text>
<text x="1149.2" y="1232.25">2013 NDB−SI−MA−STRv Lhx8 Gaba Immature</text>
<text x="1149.2" y="1270.80">0402 MPO−ADP Lhx8 Gaba_1</text>
<text x="1149.2" y="1309.35">0251 NDB−SI−MA−STRv Lhx8 Gaba_8</text>
</g>
<g font-size="19.0" fill="#3c3c3c" stroke="#3c3c3c" text-anchor="end">
<text transform="translate(1192.40,1330.3) rotate(-90)">RG_10</text>
<text transform="translate(1217.46,1330.3) rotate(-90)">RG_18</text>
<text transform="translate(1242.52,1330.3) rotate(-90)">RG_3</text>
<text transform="translate(1267.58,1330.3) rotate(-90)">RG_5</text>
<text transform="translate(1292.64,1330.3) rotate(-90)">RG_7</text>
<text transform="translate(1317.70,1330.3) rotate(-90)">IP_13</text>
<text transform="translate(1342.76,1330.3) rotate(-90)">IP_8</text>
<text transform="translate(1367.82,1330.3) rotate(-90)">IP_9</text>
<text transform="translate(1392.88,1330.3) rotate(-90)">Neuron_0</text>
<text transform="translate(1417.94,1330.3) rotate(-90)">Neuron_11</text>
<text transform="translate(1443.00,1330.3) rotate(-90)">Neuron_12</text>
<text transform="translate(1468.06,1330.3) rotate(-90)">Neuron_14</text>
<text transform="translate(1493.12,1330.3) rotate(-90)">Neuron_16</text>
<text transform="translate(1518.18,1330.3) rotate(-90)">Neuron_22</text>
<text transform="translate(1543.24,1330.3) rotate(-90)">Neuron_4</text>
<text transform="translate(1568.30,1330.3) rotate(-90)">Neuron_6</text>
<text transform="translate(1593.36,1330.3) rotate(-90)">NA_1</text>
<text transform="translate(1618.42,1330.3) rotate(-90)">NA_15</text>
<text transform="translate(1643.48,1330.3) rotate(-90)">NA_2</text>
<text transform="translate(1668.54,1330.3) rotate(-90)">NA_23</text>
<text transform="translate(1693.60,1330.3) rotate(-90)">NA_24</text>
<text transform="translate(1718.66,1330.3) rotate(-90)">NA_26</text>
</g>
<g stroke="#EBEBEB" fill="none"><path stroke-width="2.6" d="M505.6 1559.50H1345.6M505.6 1581.08H1345.6M505.6 1602.66H1345.6M505.6 1624.24H1345.6M505.6 1645.82H1345.6M505.6 1667.40H1345.6M505.6 1688.98H1345.6M505.6 1710.56H1345.6M505.6 1732.14H1345.6M505.6 1753.72H1345.6M505.6 1775.30H1345.6M505.6 1796.88H1345.6M505.6 1818.46H1345.6M505.6 1840.04H1345.6M505.6 1861.62H1345.6M505.6 1883.20H1345.6M505.6 1904.78H1345.6M505.6 1926.36H1345.6M505.6 1947.94H1345.6M505.6 1969.52H1345.6M505.6 1991.10H1345.6M505.6 2012.68H1345.6M505.6 2034.26H1345.6M505.6 2055.84H1345.6M505.6 2077.42H1345.6M505.6 2099.00H1345.6M505.6 2120.58H1345.6M505.6 2142.16H1345.6M505.6 2163.74H1345.6M505.6 2185.32H1345.6M505.6 2206.90H1345.6M505.6 2228.48H1345.6M505.6 2250.06H1345.6M505.6 2271.64H1345.6M505.6 2293.22H1345.6M505.6 2314.80H1345.6M505.6 2336.38H1345.6M505.6 2357.96H1345.6M505.6 2379.54H1345.6M505.6 2401.12H1345.6M505.6 2422.70H1345.6M505.6 2444.28H1345.6M505.6 2465.86H1345.6M505.6 2487.44H1345.6M505.6 2509.02H1345.6"/><path stroke-width="3.0" d="M517.70 1546.5V2521M543.90 1546.5V2521M570.09 1546.5V2521M596.29 1546.5V2521M622.49 1546.5V2521M648.69 1546.5V2521M674.88 1546.5V2521M701.08 1546.5V2521M727.28 1546.5V2521M753.47 1546.5V2521M779.67 1546.5V2521M805.87 1546.5V2521M832.06 1546.5V2521M858.26 1546.5V2521M884.46 1546.5V2521M910.65 1546.5V2521M936.85 1546.5V2521M963.05 1546.5V2521M989.25 1546.5V2521M1015.44 1546.5V2521M1041.64 1546.5V2521M1067.84 1546.5V2521M1094.03 1546.5V2521M1120.23 1546.5V2521M1146.43 1546.5V2521M1172.62 1546.5V2521M1198.82 1546.5V2521M1225.02 1546.5V2521M1251.22 1546.5V2521M1277.41 1546.5V2521M1303.61 1546.5V2521M1329.81 1546.5V2521"/></g>
<rect x="478.5" y="1548.60" width="25.90" height="22.37" fill="#B8EFA4"/>
<rect x="478.5" y="1570.67" width="25.90" height="21.87" fill="#EAB84C"/>
<rect x="478.5" y="1592.25" width="25.90" height="21.87" fill="#6CBE30"/>
<rect x="478.5" y="1613.82" width="25.90" height="21.87" fill="#6E6420"/>
<rect x="478.5" y="1635.40" width="25.90" height="21.87" fill="#CC2244"/>
<rect x="478.5" y="1656.97" width="25.90" height="65.02" fill="#A06A1E"/>
<rect x="478.5" y="1721.69" width="25.90" height="43.45" fill="#7FFCC8"/>
<rect x="478.5" y="1764.84" width="25.90" height="21.87" fill="#80F840"/>
<rect x="478.5" y="1786.41" width="25.90" height="21.87" fill="#60D0F8"/>
<rect x="478.5" y="1807.99" width="25.90" height="108.17" fill="#FF2255"/>
<rect x="478.5" y="1915.86" width="25.90" height="43.45" fill="#70FCC0"/>
<rect x="478.5" y="1959.01" width="25.90" height="43.45" fill="#FF4422"/>
<rect x="478.5" y="2002.15" width="25.90" height="43.45" fill="#9C20A8"/>
<rect x="478.5" y="2045.30" width="25.90" height="21.87" fill="#80C8FF"/>
<rect x="478.5" y="2066.88" width="25.90" height="21.87" fill="#A0207A"/>
<rect x="478.5" y="2088.45" width="25.90" height="43.45" fill="#F0FF50"/>
<rect x="478.5" y="2131.60" width="25.90" height="21.87" fill="#7A3C14"/>
<rect x="478.5" y="2153.17" width="25.90" height="21.87" fill="#C8A848"/>
<rect x="478.5" y="2174.75" width="25.90" height="21.87" fill="#2E7050"/>
<rect x="478.5" y="2196.32" width="25.90" height="21.87" fill="#FF3CF8"/>
<rect x="478.5" y="2217.89" width="25.90" height="21.87" fill="#988820"/>
<rect x="478.5" y="2239.47" width="25.90" height="43.45" fill="#F47A1A"/>
<rect x="478.5" y="2282.62" width="25.90" height="65.02" fill="#2A6A68"/>
<rect x="478.5" y="2347.34" width="25.90" height="21.87" fill="#80FFFF"/>
<rect x="478.5" y="2368.91" width="25.90" height="21.87" fill="#70E090"/>
<rect x="478.5" y="2390.49" width="25.90" height="86.60" fill="#3CAA20"/>
<rect x="478.5" y="2476.78" width="25.90" height="21.87" fill="#E4A030"/>
<rect x="478.5" y="2498.36" width="25.90" height="21.24" fill="#D048F0"/>
<g>
<circle cx="1172.62" cy="1559.50" r="2.00" fill="#F1F886"/>
<circle cx="1329.81" cy="1559.50" r="2.00" fill="#EDEC74"/>
<circle cx="674.88" cy="1581.08" r="4.70" fill="#EADC64"/>
<circle cx="805.87" cy="1581.08" r="6.00" fill="#E7CA55"/>
<circle cx="936.85" cy="1581.08" r="2.70" fill="#F1F886"/>
<circle cx="1015.44" cy="1581.08" r="3.00" fill="#F1F886"/>
<circle cx="1277.41" cy="1581.08" r="4.30" fill="#EDEC74"/>
<circle cx="1303.61" cy="1581.08" r="4.70" fill="#EADC64"/>
<circle cx="1329.81" cy="1581.08" r="5.00" fill="#E7CA55"/>
<circle cx="674.88" cy="1602.66" r="2.50" fill="#F1F886"/>
<circle cx="805.87" cy="1602.66" r="3.00" fill="#F1F886"/>
<circle cx="1277.41" cy="1624.24" r="2.00" fill="#E5B946"/>
<circle cx="517.70" cy="1645.82" r="4.50" fill="#EADC64"/>
<circle cx="543.90" cy="1645.82" r="4.30" fill="#EADC64"/>
<circle cx="570.09" cy="1645.82" r="4.00" fill="#EDEC74"/>
<circle cx="596.29" cy="1645.82" r="3.80" fill="#F1F886"/>
<circle cx="622.49" cy="1645.82" r="4.50" fill="#E7CA55"/>
<circle cx="936.85" cy="1645.82" r="4.70" fill="#F1F886"/>
<circle cx="1225.02" cy="1645.82" r="6.00" fill="#E75E44"/>
<circle cx="1251.22" cy="1645.82" r="3.50" fill="#EDEC74"/>
<circle cx="936.85" cy="1667.40" r="2.50" fill="#F1F886"/>
<circle cx="1172.62" cy="1667.40" r="3.00" fill="#F1F886"/>
<circle cx="1198.82" cy="1667.40" r="3.70" fill="#EADC64"/>
<circle cx="570.09" cy="1688.98" r="3.00" fill="#E7CA55"/>
<circle cx="936.85" cy="1688.98" r="2.50" fill="#F1F886"/>
<circle cx="1198.82" cy="1710.56" r="5.30" fill="#E75E44"/>
<circle cx="701.08" cy="1732.14" r="3.30" fill="#F1F886"/>
<circle cx="910.65" cy="1732.14" r="2.50" fill="#F1F886"/>
<circle cx="936.85" cy="1732.14" r="6.30" fill="#EDEC74"/>
<circle cx="1146.43" cy="1732.14" r="7.30" fill="#DE4660"/>
<circle cx="1172.62" cy="1732.14" r="6.50" fill="#E88F30"/>
<circle cx="1067.84" cy="1753.72" r="7.80" fill="#801C82"/>
<circle cx="1094.03" cy="1753.72" r="5.50" fill="#E5B946"/>
<circle cx="1120.23" cy="1753.72" r="7.30" fill="#E05058"/>
<circle cx="727.28" cy="1775.30" r="3.00" fill="#F1F886"/>
<circle cx="779.67" cy="1775.30" r="6.00" fill="#EDEC74"/>
<circle cx="805.87" cy="1775.30" r="6.00" fill="#EDEC74"/>
<circle cx="832.06" cy="1775.30" r="5.00" fill="#F1F886"/>
<circle cx="858.26" cy="1775.30" r="3.50" fill="#F1F886"/>
<circle cx="910.65" cy="1775.30" r="3.30" fill="#F1F886"/>
<circle cx="936.85" cy="1775.30" r="6.30" fill="#F1F886"/>
<circle cx="963.05" cy="1775.30" r="5.00" fill="#F1F886"/>
<circle cx="989.25" cy="1775.30" r="9.50" fill="#DE4660"/>
<circle cx="1015.44" cy="1775.30" r="7.00" fill="#E7CA55"/>
<circle cx="1041.64" cy="1775.30" r="7.30" fill="#E7CA55"/>
<circle cx="1198.82" cy="1775.30" r="5.00" fill="#F1F886"/>
<circle cx="701.08" cy="1796.88" r="3.30" fill="#F1F886"/>
<circle cx="727.28" cy="1796.88" r="2.30" fill="#F1F886"/>
<circle cx="805.87" cy="1796.88" r="3.80" fill="#F1F886"/>
<circle cx="910.65" cy="1796.88" r="4.50" fill="#EDEC74"/>
<circle cx="936.85" cy="1796.88" r="9.00" fill="#D03070"/>
<circle cx="963.05" cy="1796.88" r="2.50" fill="#F1F886"/>
<circle cx="1041.64" cy="1796.88" r="3.30" fill="#F1F886"/>
<circle cx="1198.82" cy="1796.88" r="4.50" fill="#F1F886"/>
<circle cx="727.28" cy="1818.46" r="6.80" fill="#EADC64"/>
<circle cx="832.06" cy="1818.46" r="5.70" fill="#EDEC74"/>
<circle cx="858.26" cy="1818.46" r="8.00" fill="#E88F30"/>
<circle cx="884.46" cy="1818.46" r="8.50" fill="#E75E44"/>
<circle cx="936.85" cy="1818.46" r="2.70" fill="#F1F886"/>
<circle cx="1041.64" cy="1818.46" r="3.00" fill="#F1F886"/>
<circle cx="596.29" cy="1840.04" r="2.70" fill="#F1F886"/>
<circle cx="727.28" cy="1840.04" r="9.00" fill="#E8723A"/>
<circle cx="858.26" cy="1840.04" r="5.50" fill="#EADC64"/>
<circle cx="1015.44" cy="1840.04" r="6.00" fill="#E7CA55"/>
<circle cx="1041.64" cy="1861.62" r="4.70" fill="#E5B946"/>
<circle cx="727.28" cy="1883.20" r="4.50" fill="#F1F886"/>
<circle cx="832.06" cy="1883.20" r="3.30" fill="#F1F886"/>
<circle cx="884.46" cy="1883.20" r="4.30" fill="#EDEC74"/>
<circle cx="596.29" cy="1904.78" r="2.70" fill="#F1F886"/>
<circle cx="701.08" cy="1904.78" r="4.30" fill="#EADC64"/>
<circle cx="727.28" cy="1904.78" r="4.30" fill="#F1F886"/>
<circle cx="1041.64" cy="1904.78" r="2.70" fill="#F1F886"/>
<circle cx="1172.62" cy="1904.78" r="5.50" fill="#E5A73A"/>
<circle cx="596.29" cy="1926.36" r="2.00" fill="#F1F886"/>
<circle cx="701.08" cy="1926.36" r="2.50" fill="#F1F886"/>
<circle cx="832.06" cy="1926.36" r="9.00" fill="#B82A80"/>
<circle cx="884.46" cy="1926.36" r="5.50" fill="#EDEC74"/>
<circle cx="936.85" cy="1926.36" r="3.00" fill="#F1F886"/>
<circle cx="596.29" cy="1947.94" r="8.30" fill="#E5A73A"/>
<circle cx="832.06" cy="1947.94" r="2.50" fill="#F1F886"/>
<circle cx="596.29" cy="1969.52" r="2.70" fill="#F1F886"/>
<circle cx="674.88" cy="1969.52" r="3.30" fill="#F1F886"/>
<circle cx="805.87" cy="1969.52" r="8.50" fill="#DE4660"/>
<circle cx="936.85" cy="1969.52" r="4.70" fill="#F1F886"/>
<circle cx="1198.82" cy="1969.52" r="3.50" fill="#F1F886"/>
<circle cx="1277.41" cy="1969.52" r="4.00" fill="#F1F886"/>
<circle cx="1303.61" cy="1969.52" r="2.00" fill="#F1F886"/>
<circle cx="1329.81" cy="1969.52" r="3.30" fill="#F1F886"/>
<circle cx="674.88" cy="1991.10" r="4.30" fill="#EADC64"/>
<circle cx="805.87" cy="1991.10" r="5.00" fill="#EDEC74"/>
<circle cx="805.87" cy="2012.68" r="4.50" fill="#F1F886"/>
<circle cx="1329.81" cy="2034.26" r="3.00" fill="#EADC64"/>
<circle cx="805.87" cy="2055.84" r="3.50" fill="#F1F886"/>
<circle cx="779.67" cy="2077.42" r="9.30" fill="#000000"/>
<circle cx="936.85" cy="2077.42" r="3.30" fill="#F1F886"/>
<circle cx="1041.64" cy="2077.42" r="4.00" fill="#F1F886"/>
<circle cx="1120.23" cy="2077.42" r="3.00" fill="#F1F886"/>
<circle cx="1172.62" cy="2077.42" r="2.50" fill="#F1F886"/>
<circle cx="1225.02" cy="2077.42" r="2.70" fill="#F1F886"/>
<circle cx="936.85" cy="2099.00" r="6.50" fill="#E7CA55"/>
<circle cx="936.85" cy="2120.58" r="5.00" fill="#EDEC74"/>
<circle cx="805.87" cy="2142.16" r="4.00" fill="#F1F886"/>
<circle cx="910.65" cy="2142.16" r="3.30" fill="#F1F886"/>
<circle cx="936.85" cy="2142.16" r="8.50" fill="#E8723A"/>
<circle cx="1172.62" cy="2142.16" r="4.50" fill="#F1F886"/>
<circle cx="1198.82" cy="2142.16" r="4.30" fill="#F1F886"/>
<circle cx="1329.81" cy="2142.16" r="4.00" fill="#F1F886"/>
<circle cx="936.85" cy="2163.74" r="3.50" fill="#F1F886"/>
<circle cx="1172.62" cy="2185.32" r="3.30" fill="#EDEC74"/>
<circle cx="1329.81" cy="2185.32" r="4.50" fill="#E88F30"/>
<circle cx="701.08" cy="2206.90" r="7.30" fill="#E5B946"/>
<circle cx="727.28" cy="2206.90" r="9.80" fill="#E75E44"/>
<circle cx="753.47" cy="2206.90" r="5.00" fill="#F1F886"/>
<circle cx="805.87" cy="2206.90" r="4.30" fill="#F1F886"/>
<circle cx="910.65" cy="2206.90" r="2.00" fill="#F1F886"/>
<circle cx="936.85" cy="2206.90" r="4.30" fill="#F1F886"/>
<circle cx="1172.62" cy="2206.90" r="3.30" fill="#F1F886"/>
<circle cx="1329.81" cy="2206.90" r="3.50" fill="#F1F886"/>
<circle cx="1329.81" cy="2228.48" r="2.30" fill="#EDEC74"/>
<circle cx="1303.61" cy="2250.06" r="3.30" fill="#E88F30"/>
<circle cx="805.87" cy="2271.64" r="5.00" fill="#EDEC74"/>
<circle cx="1303.61" cy="2271.64" r="2.30" fill="#EDEC74"/>
<circle cx="674.88" cy="2293.22" r="6.30" fill="#C83880"/>
<circle cx="805.87" cy="2293.22" r="5.00" fill="#EDEC74"/>
<circle cx="674.88" cy="2314.80" r="4.50" fill="#E5B946"/>
<circle cx="674.88" cy="2336.38" r="3.80" fill="#E7CA55"/>
<circle cx="517.70" cy="2357.96" r="4.70" fill="#EDEC74"/>
<circle cx="543.90" cy="2357.96" r="4.30" fill="#F1F886"/>
<circle cx="622.49" cy="2357.96" r="5.30" fill="#E5B946"/>
<circle cx="648.69" cy="2357.96" r="8.00" fill="#2A0C46"/>
<circle cx="753.47" cy="2379.54" r="3.30" fill="#E5A73A"/>
<circle cx="543.90" cy="2401.12" r="4.70" fill="#F1F886"/>
<circle cx="596.29" cy="2401.12" r="11.50" fill="#28104A"/>
<circle cx="596.29" cy="2422.70" r="7.00" fill="#EADC64"/>
<circle cx="858.26" cy="2422.70" r="2.30" fill="#F1F886"/>
<circle cx="910.65" cy="2422.70" r="3.30" fill="#F1F886"/>
<circle cx="517.70" cy="2444.28" r="2.70" fill="#EDEC74"/>
<circle cx="543.90" cy="2444.28" r="4.70" fill="#E5A73A"/>
<circle cx="517.70" cy="2465.86" r="4.50" fill="#EDEC74"/>
<circle cx="596.29" cy="2465.86" r="7.30" fill="#E7CA55"/>
<circle cx="543.90" cy="2487.44" r="5.30" fill="#E88F30"/>
<circle cx="570.09" cy="2487.44" r="4.50" fill="#E88F30"/>
<circle cx="517.70" cy="2509.02" r="5.20" fill="#E75E44"/>
<circle cx="543.90" cy="2509.02" r="2.00" fill="#F1F886"/>
</g>
<g font-size="24.05" fill="#3c3c3c" stroke="#3c3c3c" text-anchor="end">
<text x="471.0" y="1566.10">2023 Neuroblast</text>
<text x="471.0" y="1587.68">2019 STR Immature</text>
<text x="471.0" y="1609.26">2016 STR D1 Immature</text>
<text x="471.0" y="1630.84">2015 OT D3 Folh1 Gaba Immature</text>
<text x="471.0" y="1652.42">2012 STR Prox1 Lhx6 Gaba Immature</text>
<text x="471.0" y="1674.00">0425 BST−MPN Six3 Nrgn Gaba_6</text>
<text x="471.0" y="1695.58">0424 BST−MPN Six3 Nrgn Gaba_5</text>
<text x="471.0" y="1717.16">0420 BST−MPN Six3 Nrgn Gaba_1</text>
<text x="471.0" y="1738.74">0414 PVR Six3 Sox3 Gaba_4</text>
<text x="471.0" y="1760.32">0413 PVR Six3 Sox3 Gaba_3</text>
<text x="471.0" y="1781.90">0410 BST Tac2 Gaba_2</text>
<text x="471.0" y="1803.48">0407 MPN−MPO−LPO Lhx6 Zfhx3 Gaba_1</text>
<text x="471.0" y="1825.06">0406 MPO−ADP Lhx8 Gaba_5</text>
<text x="471.0" y="1846.64">0405 MPO−ADP Lhx8 Gaba_4</text>
<text x="471.0" y="1868.22">0404 MPO−ADP Lhx8 Gaba_3</text>
<text x="471.0" y="1889.80">0403 MPO−ADP Lhx8 Gaba_2</text>
<text x="471.0" y="1911.38">0402 MPO−ADP Lhx8 Gaba_1</text>
<text x="471.0" y="1932.96">0400 SI−MPO−LPO Lhx8 Gaba_5</text>
<text x="471.0" y="1954.54">0396 SI−MPO−LPO Lhx8 Gaba_1</text>
<text x="471.0" y="1976.12">0382 ACB−BST−FS D1 Gaba_2</text>
<text x="471.0" y="1997.70">0381 ACB−BST−FS D1 Gaba_1</text>
<text x="471.0" y="2019.28">0375 CEA−AAA−BST Six3 Sp9 Gaba_3</text>
<text x="471.0" y="2040.86">0373 CEA−AAA−BST Six3 Sp9 Gaba_1</text>
<text x="471.0" y="2062.44">0369 CEA−BST Six3 Cyp26b1 Gaba_3</text>
<text x="471.0" y="2084.02">0357 MEA−BST Lhx6 Nfib Gaba_1</text>
<text x="471.0" y="2105.60">0353 MEA−BST Lhx6 Sp9 Gaba_7</text>
<text x="471.0" y="2127.18">0348 MEA−BST Lhx6 Sp9 Gaba_2</text>
<text x="471.0" y="2148.76">0343 MEA−BST Sox6 Gaba_7</text>
<text x="471.0" y="2170.34">0309 LSX Nkx2−1 Gaba_4</text>
<text x="471.0" y="2191.92">0300 LSX Sall3 Pax6 Gaba_2</text>
<text x="471.0" y="2213.50">0295 NDB−SI−ant Prdm12 Gaba_1</text>
<text x="471.0" y="2235.08">0287 STR−PAL Chst9 Gaba_3</text>
<text x="471.0" y="2256.66">0276 STR D2 Gaba_3</text>
<text x="471.0" y="2278.24">0274 STR D2 Gaba_1</text>
<text x="471.0" y="2299.82">0272 STR D1 Gaba_8</text>
<text x="471.0" y="2321.40">0271 STR D1 Gaba_7</text>
<text x="471.0" y="2342.98">0267 STR D1 Gaba_3</text>
<text x="471.0" y="2364.56">0259 PAL−STR Gaba−Chol_1</text>
<text x="471.0" y="2386.14">0257 GPe−SI Sox6 Cyp26b1 Gaba_1</text>
<text x="471.0" y="2407.72">0251 NDB−SI−MA−STRv Lhx8 Gaba_8</text>
<text x="471.0" y="2429.30">0249 NDB−SI−MA−STRv Lhx8 Gaba_6</text>
<text x="471.0" y="2450.88">0248 NDB−SI−MA−STRv Lhx8 Gaba_5</text>
<text x="471.0" y="2472.46">0247 NDB−SI−MA−STRv Lhx8 Gaba_4</text>
<text x="471.0" y="2494.04">0239 Sst Chodl Gaba_2</text>
<text x="471.0" y="2515.62">0237 STR Lhx8 Gaba_2</text>
</g>
<g font-size="23.55" fill="#3c3c3c" stroke="#3c3c3c" text-anchor="end">
<text transform="translate(519.30,2526.0) rotate(-90)">i25:Npy/Etv1</text>
<text transform="translate(545.50,2526.0) rotate(-90)">i21:Sst/Pou3f3</text>
<text transform="translate(571.69,2526.0) rotate(-90)">i32:Sst/Npy</text>
<text transform="translate(597.89,2526.0) rotate(-90)">i5:Gaba/Pou3f3</text>
<text transform="translate(624.09,2526.0) rotate(-90)">i27:Th/Trh</text>
<text transform="translate(650.29,2526.0) rotate(-90)">i43: Chat</text>
<text transform="translate(676.48,2526.0) rotate(-90)">i2:Tac1/Pdyn</text>
<text transform="translate(702.68,2526.0) rotate(-90)">i1:Gaba</text>
<text transform="translate(728.88,2526.0) rotate(-90)">i13:Gaba</text>
<text transform="translate(755.07,2526.0) rotate(-90)">i41:Npy/Penk</text>
<text transform="translate(781.27,2526.0) rotate(-90)">i16:Gal/Th</text>
<text transform="translate(807.47,2526.0) rotate(-90)">i11:Gaba</text>
<text transform="translate(833.66,2526.0) rotate(-90)">i23:Crh/Nts</text>
<text transform="translate(859.86,2526.0) rotate(-90)">i17:Th/Nos1</text>
<text transform="translate(886.06,2526.0) rotate(-90)">i24:Nmu</text>
<text transform="translate(912.25,2526.0) rotate(-90)">i15:Gaba</text>
<text transform="translate(938.45,2526.0) rotate(-90)">i7:Gaba</text>
<text transform="translate(964.65,2526.0) rotate(-90)">i12:Gaba</text>
<text transform="translate(990.85,2526.0) rotate(-90)">i18:Gal/Tac2</text>
<text transform="translate(1017.04,2526.0) rotate(-90)">i35:Crh/Tac2</text>
<text transform="translate(1043.24,2526.0) rotate(-90)">i8:Gal/Amigo2</text>
<text transform="translate(1069.44,2526.0) rotate(-90)">i14:Avp/Cck</text>
<text transform="translate(1095.63,2526.0) rotate(-90)">i30: Vip</text>
<text transform="translate(1121.83,2526.0) rotate(-90)">i6:Avp/Nms</text>
<text transform="translate(1148.03,2526.0) rotate(-90)">i37:Bdnf/Chrm2</text>
<text transform="translate(1174.22,2526.0) rotate(-90)">i9:Gaba</text>
<text transform="translate(1200.42,2526.0) rotate(-90)">i29:Gaba/Igsf1</text>
<text transform="translate(1226.62,2526.0) rotate(-90)">i20:Gal/Moxd1</text>
<text transform="translate(1252.82,2526.0) rotate(-90)">i40:Sst/Reln</text>
<text transform="translate(1279.01,2526.0) rotate(-90)">i10:Tac1/Nts</text>
<text transform="translate(1305.21,2526.0) rotate(-90)">i3:Penk/Nts</text>
<text transform="translate(1331.41,2526.0) rotate(-90)">i4:Gaba/Mylk</text>
</g>
<text transform="translate(30.00,27.30) scale(0.875,1)" font-size="41.6" font-weight="bold" fill="#000">a</text>
<text transform="translate(29.90,748.80) scale(1.0,1)" font-size="41.6" font-weight="bold" fill="#000">b</text>
<text transform="translate(697.00,749.40) scale(1.03,1)" font-size="41.6" font-weight="bold" fill="#000">c</text>
<text transform="translate(29.60,1504.10) scale(1.015,1)" font-size="41.6" font-weight="bold" fill="#000">d</text>
<text x="399.20" y="28.40" font-size="31.05" text-anchor="start" fill="#000" stroke="#000">Supertype vs La Manno et al., clusters</text>
<text x="33.40" y="804.70" font-size="29.8" text-anchor="start" fill="#000" stroke="#000">Class vs La Manno et al., class</text>
<text x="1177.60" y="765.00" font-size="26.35" text-anchor="start" fill="#000" stroke="#000">Supertype vs Turrero-Garcia et al., clusters</text>
<text x="505.90" y="1527.40" font-size="32.95" text-anchor="start" fill="#000" stroke="#000">Supertype vs Kaplan et al., clusters</text>
<text x="1033.80" y="690.80" font-size="30.9" text-anchor="start" fill="#000" stroke="#000">La Manno et al. 2021</text>
<text x="154.80" y="1396.00" font-size="29.6" text-anchor="start" fill="#000" stroke="#000">La Manno et al. 2021</text>
<text x="1295.40" y="1450.50" font-size="25.85" text-anchor="start" fill="#000" stroke="#000">Turrero Garcia et al. 2021</text>
<text x="754.40" y="2709.40" font-size="32.7" text-anchor="start" fill="#000" stroke="#000">Kaplan et al., 2025</text>
<text x="1687.00" y="674.20" font-size="19.7" text-anchor="middle" fill="#000" stroke="#000">Jaccard</text>
<defs><linearGradient id="gA" x1="0" x2="1" y1="0" y2="0"><stop offset="0" stop-color="#F6FA8A"/><stop offset="0.1" stop-color="#EEDF6A"/><stop offset="0.2" stop-color="#E8B848"/><stop offset="0.3" stop-color="#E88C36"/><stop offset="0.4" stop-color="#E4624A"/><stop offset="0.5" stop-color="#D23E74"/><stop offset="0.6" stop-color="#B02C90"/><stop offset="0.7" stop-color="#84208E"/><stop offset="0.8" stop-color="#54146C"/><stop offset="0.9" stop-color="#280C44"/><stop offset="0.95" stop-color="#12081E"/><stop offset="1" stop-color="#08050C"/></linearGradient></defs>
<rect x="1622.8" y="687.8" width="132.40" height="18.30" fill="url(#gA)"/>
<path d="M1664.60 687.8v4.94M1664.60 706.1v-4.58M1706.30 687.8v4.94M1706.30 706.1v-4.58M1747.80 687.8v4.94M1747.80 706.1v-4.58" stroke="#fff" stroke-width="0.9" fill="none"/>
<text x="1663.60" y="726.90" font-size="20.0" text-anchor="middle" fill="#000" stroke="#000">0.2</text>
<text x="1705.90" y="726.90" font-size="20.0" text-anchor="middle" fill="#000" stroke="#000">0.4</text>
<text x="1748.60" y="726.90" font-size="20.0" text-anchor="middle" fill="#000" stroke="#000">0.6</text>
<text x="1875.00" y="674.20" font-size="20.1" text-anchor="middle" fill="#000" stroke="#000">sqrt(Freq)</text>
<circle cx="1805.6" cy="698.6" r="6.4" fill="#000"/>
<text x="1819.40" y="707.80" font-size="20.0" text-anchor="start" fill="#000" stroke="#000">25</text>
<circle cx="1868.6" cy="698.4" r="8.5" fill="#000"/>
<text x="1885.70" y="707.80" font-size="20.0" text-anchor="start" fill="#000" stroke="#000">50</text>
<circle cx="1934.7" cy="699.4" r="9.9" fill="#000"/>
<text x="1951.90" y="707.80" font-size="20.0" text-anchor="start" fill="#000" stroke="#000">75</text>
<text x="216.00" y="1162.70" font-size="18.9" text-anchor="middle" fill="#000" stroke="#000">Jaccard</text>
<defs><linearGradient id="gB" x1="0" x2="1" y1="0" y2="0"><stop offset="0" stop-color="#F6FA8A"/><stop offset="0.1" stop-color="#EEDF6A"/><stop offset="0.2" stop-color="#E8B848"/><stop offset="0.3" stop-color="#E88C36"/><stop offset="0.4" stop-color="#E4624A"/><stop offset="0.5" stop-color="#D23E74"/><stop offset="0.6" stop-color="#B02C90"/><stop offset="0.7" stop-color="#84208E"/><stop offset="0.8" stop-color="#54146C"/><stop offset="0.9" stop-color="#280C44"/><stop offset="0.95" stop-color="#12081E"/><stop offset="1" stop-color="#08050C"/></linearGradient></defs>
<rect x="155.0" y="1175.4" width="126.40" height="17.80" fill="url(#gB)"/>
<path d="M194.60 1175.4v4.81M194.60 1193.2v-4.45M234.50 1175.4v4.81M234.50 1193.2v-4.45M274.60 1175.4v4.81M274.60 1193.2v-4.45" stroke="#fff" stroke-width="0.9" fill="none"/>
<text x="193.20" y="1214.00" font-size="18.4" text-anchor="middle" fill="#000" stroke="#000">0.2</text>
<text x="234.30" y="1214.00" font-size="18.4" text-anchor="middle" fill="#000" stroke="#000">0.4</text>
<text x="275.00" y="1214.00" font-size="18.4" text-anchor="middle" fill="#000" stroke="#000">0.6</text>
<text x="221.40" y="1260.50" font-size="19.3" text-anchor="middle" fill="#000" stroke="#000">sqrt(Freq)</text>
<circle cx="174.6" cy="1282.0" r="6.1" fill="#000"/>
<text x="188.80" y="1289.80" font-size="18.6" text-anchor="start" fill="#000" stroke="#000">25</text>
<circle cx="231.0" cy="1281.5" r="7.9" fill="#000"/>
<text x="245.00" y="1289.80" font-size="18.6" text-anchor="start" fill="#000" stroke="#000">50</text>
<circle cx="175.0" cy="1310.6" r="9.1" fill="#000"/>
<text x="188.80" y="1319.00" font-size="18.6" text-anchor="start" fill="#000" stroke="#000">75</text>
<circle cx="231.0" cy="1311.2" r="10.6" fill="#000"/>
<text x="244.60" y="1319.00" font-size="18.6" text-anchor="start" fill="#000" stroke="#000">100</text>
<text x="862.20" y="1360.70" font-size="16.85" text-anchor="middle" fill="#000" stroke="#000">Jaccard</text>
<defs><linearGradient id="gC" x1="0" x2="1" y1="0" y2="0"><stop offset="0" stop-color="#F6FA8A"/><stop offset="0.1" stop-color="#EEDF6A"/><stop offset="0.2" stop-color="#E8B848"/><stop offset="0.3" stop-color="#E88C36"/><stop offset="0.4" stop-color="#E4624A"/><stop offset="0.5" stop-color="#D23E74"/><stop offset="0.6" stop-color="#B02C90"/><stop offset="0.7" stop-color="#84208E"/><stop offset="0.8" stop-color="#54146C"/><stop offset="0.9" stop-color="#280C44"/><stop offset="0.95" stop-color="#12081E"/><stop offset="1" stop-color="#08050C"/></linearGradient></defs>
<rect x="808.0" y="1369.5" width="112.30" height="15.70" fill="url(#gC)"/>
<path d="M831.80 1369.5v4.24M831.80 1385.2v-3.93M854.80 1369.5v4.24M854.80 1385.2v-3.93M878.10 1369.5v4.24M878.10 1385.2v-3.93M901.30 1369.5v4.24M901.30 1385.2v-3.93" stroke="#fff" stroke-width="0.9" fill="none"/>
<text x="855.40" y="1401.40" font-size="16.8" text-anchor="middle" fill="#000" stroke="#000">0.2</text>
<text x="900.30" y="1401.40" font-size="16.8" text-anchor="middle" fill="#000" stroke="#000">0.4</text>
<text x="1038.20" y="1360.70" font-size="16.9" text-anchor="middle" fill="#000" stroke="#000">sqrt(Freq)</text>
<circle cx="945.7" cy="1378.4" r="5.0" fill="#000"/>
<text x="957.40" y="1383.40" font-size="16.3" text-anchor="start" fill="#000" stroke="#000">10</text>
<circle cx="996.5" cy="1378.4" r="7.0" fill="#000"/>
<text x="1009.60" y="1383.40" font-size="16.3" text-anchor="start" fill="#000" stroke="#000">20</text>
<circle cx="1047.8" cy="1378.4" r="8.0" fill="#000"/>
<text x="1061.20" y="1383.40" font-size="16.3" text-anchor="start" fill="#000" stroke="#000">30</text>
<circle cx="1099.5" cy="1378.4" r="9.0" fill="#000"/>
<text x="1113.80" y="1383.40" font-size="16.3" text-anchor="start" fill="#000" stroke="#000">40</text>
<text x="193.20" y="2571.40" font-size="20.9" text-anchor="middle" fill="#000" stroke="#000">Jaccard</text>
<defs><linearGradient id="gD" x1="0" x2="1" y1="0" y2="0"><stop offset="0" stop-color="#F6FA8A"/><stop offset="0.1" stop-color="#EEDF6A"/><stop offset="0.2" stop-color="#E8B848"/><stop offset="0.3" stop-color="#E88C36"/><stop offset="0.4" stop-color="#E4624A"/><stop offset="0.5" stop-color="#D23E74"/><stop offset="0.6" stop-color="#B02C90"/><stop offset="0.7" stop-color="#84208E"/><stop offset="0.8" stop-color="#54146C"/><stop offset="0.9" stop-color="#280C44"/><stop offset="0.95" stop-color="#12081E"/><stop offset="1" stop-color="#08050C"/></linearGradient></defs>
<rect x="125.0" y="2584.7" width="140.30" height="19.50" fill="url(#gD)"/>
<path d="M169.40 2584.7v5.27M169.40 2604.2v-4.88M213.60 2584.7v5.27M213.60 2604.2v-4.88M257.80 2584.7v5.27M257.80 2604.2v-4.88" stroke="#fff" stroke-width="0.9" fill="none"/>
<text x="168.20" y="2627.00" font-size="20.5" text-anchor="middle" fill="#000" stroke="#000">0.2</text>
<text x="213.10" y="2627.00" font-size="20.5" text-anchor="middle" fill="#000" stroke="#000">0.4</text>
<text x="258.50" y="2627.00" font-size="20.5" text-anchor="middle" fill="#000" stroke="#000">0.6</text>
<text x="383.90" y="2571.40" font-size="21.2" text-anchor="middle" fill="#000" stroke="#000">sqrt(Freq)</text>
<circle cx="298.3" cy="2593.6" r="6.5" fill="#000"/>
<text x="315.00" y="2599.70" font-size="20.3" text-anchor="start" fill="#000" stroke="#000">10</text>
<circle cx="364.8" cy="2593.6" r="8.8" fill="#000"/>
<text x="380.60" y="2599.70" font-size="20.3" text-anchor="start" fill="#000" stroke="#000">20</text>
<circle cx="431.8" cy="2593.6" r="10.0" fill="#000"/>
<text x="447.60" y="2599.70" font-size="20.3" text-anchor="start" fill="#000" stroke="#000">30</text>
<polygon points="1667.90,1646.30 1667.90,1646.30 1680.63,1668.33 1655.17,1668.33" fill="#2b2b2b"/>
<path d="M1667.90 1646.30L1718.80 1734.40H1617.00ZM1655.17 1668.33H1680.63M1642.45 1690.35H1693.35M1629.73 1712.38H1706.08" stroke="#9c9c9c" stroke-width="1" fill="none" stroke-linejoin="miter"/>
<text x="1667.90" y="1666.20" font-size="16.5" text-anchor="middle" fill="#fff" stroke="#fff">C</text>
<text x="1667.90" y="1757.30" font-size="23.2" text-anchor="middle" fill="#000" stroke="#000">Panel b</text>
<polygon points="1642.45,1824.55 1693.35,1824.55 1706.08,1846.48 1629.73,1846.48" fill="#2b2b2b"/>
<path d="M1667.90 1780.70L1718.80 1868.40H1617.00ZM1655.18 1802.62H1680.62M1642.45 1824.55H1693.35M1629.73 1846.48H1706.08" stroke="#9c9c9c" stroke-width="1" fill="none" stroke-linejoin="miter"/>
<text x="1667.90" y="1842.70" font-size="16.5" text-anchor="middle" fill="#fff" stroke="#fff">ST</text>
<text x="1668.10" y="1890.00" font-size="23.3" text-anchor="middle" fill="#000" stroke="#000">Panels a,c,d</text>
</svg>
</body>
</html>
